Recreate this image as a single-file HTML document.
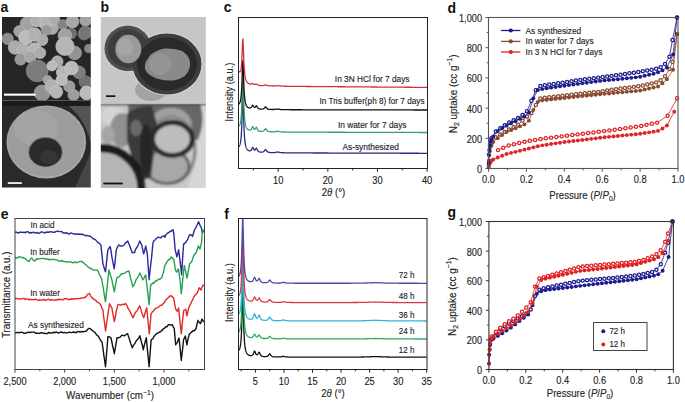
<!DOCTYPE html>
<html><head><meta charset="utf-8"><style>
html,body{margin:0;padding:0;background:#fff;}
svg{display:block;font-family:"Liberation Sans", sans-serif;}

</style></head><body>
<svg width="685" height="402" viewBox="0 0 685 402">
<defs><filter id="soft" x="-5%" y="-5%" width="110%" height="110%"><feGaussianBlur stdDeviation="0.7"/></filter>
<filter id="soft2" x="-5%" y="-5%" width="110%" height="110%"><feGaussianBlur stdDeviation="1.6"/></filter>
<filter id="soft3" x="-5%" y="-5%" width="110%" height="110%"><feGaussianBlur stdDeviation="1.1"/></filter></defs>
<rect width="685" height="402" fill="#fff"/>
<text x="0.5" y="11.8" font-size="14" text-anchor="start" font-weight="bold" fill="#111" >a</text>
<text x="100.5" y="12.3" font-size="14" text-anchor="start" font-weight="bold" fill="#111" >b</text>
<text x="223.8" y="12.2" font-size="14" text-anchor="start" font-weight="bold" fill="#111" >c</text>
<text x="447.5" y="12.6" font-size="14" text-anchor="start" font-weight="bold" fill="#111" >d</text>
<text x="0.8" y="219.2" font-size="14" text-anchor="start" font-weight="bold" fill="#111" >e</text>
<text x="224.3" y="218.8" font-size="14" text-anchor="start" font-weight="bold" fill="#111" >f</text>
<text x="447.5" y="216.6" font-size="14" text-anchor="start" font-weight="bold" fill="#111" >g</text>
<clipPath id="ca1"><rect x="2" y="17" width="88.8" height="83.5"/></clipPath>
<clipPath id="ca2"><rect x="2" y="100.5" width="88.8" height="87"/></clipPath>
<g clip-path="url(#ca1)"><g filter="url(#soft)">
<rect x="0" y="15" width="95" height="90" fill="#262626"/>
<circle cx="71.00" cy="33.40" r="5.45" fill="rgb(112,112,112)" stroke="rgb(130,130,130)" stroke-width="0.7"/>
<circle cx="83.98" cy="34.05" r="5.91" fill="rgb(107,107,107)" stroke="rgb(125,125,125)" stroke-width="0.7"/>
<circle cx="51.95" cy="27.99" r="6.36" fill="rgb(170,170,170)" stroke="rgb(188,188,188)" stroke-width="0.7"/>
<circle cx="45.02" cy="24.09" r="5.91" fill="rgb(177,177,177)" stroke="rgb(195,195,195)" stroke-width="0.7"/>
<circle cx="27.06" cy="23.66" r="6.82" fill="rgb(162,162,162)" stroke="rgb(180,180,180)" stroke-width="0.7"/>
<circle cx="36.80" cy="20.41" r="6.36" fill="rgb(177,177,177)" stroke="rgb(195,195,195)" stroke-width="0.7"/>
<circle cx="46.54" cy="21.49" r="6.82" fill="rgb(182,182,182)" stroke="rgb(200,200,200)" stroke-width="0.7"/>
<circle cx="54.11" cy="19.33" r="5.68" fill="rgb(172,172,172)" stroke="rgb(190,190,190)" stroke-width="0.7"/>
<circle cx="62.77" cy="24.74" r="5.00" fill="rgb(132,132,132)" stroke="rgb(150,150,150)" stroke-width="0.7"/>
<circle cx="72.51" cy="21.49" r="6.36" fill="rgb(167,167,167)" stroke="rgb(185,185,185)" stroke-width="0.7"/>
<circle cx="85.50" cy="20.41" r="5.68" fill="rgb(162,162,162)" stroke="rgb(180,180,180)" stroke-width="0.7"/>
<circle cx="7.58" cy="38.81" r="5.68" fill="rgb(142,142,142)" stroke="rgb(160,160,160)" stroke-width="0.7"/>
<circle cx="19.48" cy="31.23" r="5.68" fill="rgb(162,162,162)" stroke="rgb(180,180,180)" stroke-width="0.7"/>
<circle cx="46.54" cy="30.15" r="5.00" fill="rgb(152,152,152)" stroke="rgb(170,170,170)" stroke-width="0.7"/>
<circle cx="25.97" cy="37.73" r="7.27" fill="rgb(187,187,187)" stroke="rgb(205,205,205)" stroke-width="0.7"/>
<circle cx="34.63" cy="34.48" r="6.82" fill="rgb(177,177,177)" stroke="rgb(195,195,195)" stroke-width="0.7"/>
<circle cx="42.21" cy="39.89" r="5.68" fill="rgb(172,172,172)" stroke="rgb(190,190,190)" stroke-width="0.7"/>
<circle cx="15.15" cy="47.47" r="6.82" fill="rgb(172,172,172)" stroke="rgb(190,190,190)" stroke-width="0.7"/>
<circle cx="23.81" cy="50.71" r="6.82" fill="rgb(177,177,177)" stroke="rgb(195,195,195)" stroke-width="0.7"/>
<circle cx="34.63" cy="49.63" r="6.82" fill="rgb(182,182,182)" stroke="rgb(200,200,200)" stroke-width="0.7"/>
<circle cx="40.04" cy="52.88" r="5.68" fill="rgb(172,172,172)" stroke="rgb(190,190,190)" stroke-width="0.7"/>
<circle cx="20.56" cy="59.37" r="5.68" fill="rgb(152,152,152)" stroke="rgb(170,170,170)" stroke-width="0.7"/>
<circle cx="30.30" cy="57.21" r="5.68" fill="rgb(167,167,167)" stroke="rgb(185,185,185)" stroke-width="0.7"/>
<circle cx="64.94" cy="35.56" r="6.82" fill="rgb(162,162,162)" stroke="rgb(180,180,180)" stroke-width="0.7"/>
<circle cx="85.50" cy="32.32" r="6.36" fill="rgb(117,117,117)" stroke="rgb(135,135,135)" stroke-width="0.7"/>
<circle cx="88.74" cy="48.55" r="4.09" fill="rgb(137,137,137)" stroke="rgb(155,155,155)" stroke-width="0.7"/>
<circle cx="74.68" cy="52.88" r="6.82" fill="rgb(147,147,147)" stroke="rgb(165,165,165)" stroke-width="0.7"/>
<circle cx="64.94" cy="46.39" r="9.09" fill="rgb(182,182,182)" stroke="rgb(200,200,200)" stroke-width="0.7"/>
<circle cx="37.23" cy="70.84" r="10.91" fill="rgb(124,124,124)" stroke="rgb(142,142,142)" stroke-width="0.7"/>
<circle cx="57.36" cy="61.54" r="5.68" fill="rgb(172,172,172)" stroke="rgb(190,190,190)" stroke-width="0.7"/>
<circle cx="51.95" cy="65.87" r="5.00" fill="rgb(187,187,187)" stroke="rgb(205,205,205)" stroke-width="0.7"/>
<circle cx="79.00" cy="72.36" r="6.36" fill="rgb(127,127,127)" stroke="rgb(145,145,145)" stroke-width="0.7"/>
<circle cx="62.77" cy="72.36" r="6.36" fill="rgb(182,182,182)" stroke="rgb(200,200,200)" stroke-width="0.7"/>
<circle cx="71.43" cy="68.03" r="6.82" fill="rgb(187,187,187)" stroke="rgb(205,205,205)" stroke-width="0.7"/>
<circle cx="47.62" cy="79.94" r="4.55" fill="rgb(162,162,162)" stroke="rgb(180,180,180)" stroke-width="0.7"/>
<circle cx="85.50" cy="82.10" r="6.36" fill="rgb(112,112,112)" stroke="rgb(130,130,130)" stroke-width="0.7"/>
<circle cx="42.21" cy="92.92" r="7.95" fill="rgb(147,147,147)" stroke="rgb(165,165,165)" stroke-width="0.7"/>
<circle cx="51.95" cy="86.43" r="6.82" fill="rgb(177,177,177)" stroke="rgb(195,195,195)" stroke-width="0.7"/>
<circle cx="69.26" cy="86.43" r="5.68" fill="rgb(157,157,157)" stroke="rgb(175,175,175)" stroke-width="0.7"/>
<circle cx="61.69" cy="79.94" r="5.68" fill="rgb(187,187,187)" stroke="rgb(205,205,205)" stroke-width="0.7"/>
<circle cx="56.28" cy="91.84" r="6.36" fill="rgb(182,182,182)" stroke="rgb(200,200,200)" stroke-width="0.7"/>
<circle cx="73.59" cy="95.09" r="5.68" fill="rgb(157,157,157)" stroke="rgb(175,175,175)" stroke-width="0.7"/>
<circle cx="86.58" cy="92.92" r="6.82" fill="rgb(187,187,187)" stroke="rgb(205,205,205)" stroke-width="0.7"/>
</g></g>
<rect x="4" y="93.6" width="31.6" height="2.1" fill="#fff"/>
<g clip-path="url(#ca2)"><g filter="url(#soft)">
<rect x="0" y="98" width="95" height="95" fill="#2c2c2c"/>
<path d="M66,104 L92,104 L92,150 Q88,120 66,104Z" fill="#535353"/>
<path d="M74,190 L92,150 L92,190Z" fill="#444"/>
<rect x="0" y="100" width="95" height="6" fill="#1c1c1c"/>
<ellipse cx="46.3" cy="142" rx="39.8" ry="36.5" fill="#a8a8a8"/>
<ellipse cx="46" cy="141.5" rx="38.3" ry="35" fill="#9d9d9d"/>
<ellipse cx="36" cy="128" rx="22" ry="18" fill="#a6a6a6" opacity="0.8"/>
<ellipse cx="45.5" cy="152" rx="17.2" ry="15" fill="#6e6e6e"/>
<ellipse cx="45.5" cy="152.3" rx="16.2" ry="14.2" fill="#2a2a2a"/>
<ellipse cx="49" cy="157" rx="9" ry="7" fill="#363636"/>
</g></g>
<rect x="7.8" y="182.2" width="14" height="1.7" fill="#fff"/>
<clipPath id="cb1"><rect x="100.8" y="17" width="105" height="86.5"/></clipPath>
<clipPath id="cb2"><rect x="100.8" y="103.5" width="105" height="84.5"/></clipPath>
<g clip-path="url(#cb1)"><g filter="url(#soft)">
<rect x="98" y="15" width="110" height="90" fill="#c6c6c6"/>
<ellipse cx="151" cy="90" rx="16" ry="11" fill="#a2a2a2"/>
<ellipse cx="127.8" cy="48.4" rx="24.2" ry="23.7" fill="#dedede"/>
<ellipse cx="167" cy="64" rx="35.3" ry="31.3" fill="#dcdcdc"/>
<ellipse cx="127.8" cy="48.4" rx="23.4" ry="22.9" fill="#505050"/>
<ellipse cx="127.8" cy="48.4" rx="20" ry="19.5" fill="#3e3e3e"/>
<ellipse cx="167" cy="64" rx="34.5" ry="30.5" fill="#3c3c3c"/>
<ellipse cx="167" cy="64" rx="30" ry="26.5" fill="#2b2b2b"/>
<ellipse cx="128.3" cy="49" rx="13" ry="14.3" fill="#9a9a9a"/>
<ellipse cx="125" cy="47" rx="8" ry="9" fill="#a6a6a6"/>
<path d="M145.0,69.0 Q144.5,62 147.2,59.8 Q150,54 155.3,51.8 Q160,48.5 166.7,48.4 Q175,48.5 180.5,50.6 Q186,53 188.5,57.5 Q191,62 189.6,67.8 Q188.5,72.5 185.0,75.8 Q180,79.5 173.6,80.4 Q165,81 159.8,79.3 Q153,77.5 149.5,74.7 Q146,72 145.0,69.0Z" fill="#8a8a8a"/>
<ellipse cx="160" cy="64" rx="11" ry="11" fill="#959595"/>
</g></g>
<rect x="106" y="95.3" width="9.3" height="1.7" fill="#111"/>
<g clip-path="url(#cb2)"><g filter="url(#soft3)">
<rect x="98" y="100" width="110" height="92" fill="#c8c8c8"/>
<ellipse cx="113" cy="116" rx="12" ry="9" fill="#d4d4d4"/>
<path d="M196,104 L208,104 L208,192 L186,192 Q200,160 196,104Z" fill="#d6d6d6"/>
<path d="M128,104 L200,104 Q206,120 198,140 L150,140 L128,130 Z" fill="#666"/>
<ellipse cx="171" cy="125" rx="21.5" ry="18" fill="#a0a0a0" stroke="#6e6e6e" stroke-width="1.5"/>
<ellipse cx="171" cy="150" rx="24" ry="33" fill="none" stroke="#8a8a8a" stroke-width="3.5"/>
<ellipse cx="167" cy="166.5" rx="22" ry="17" fill="#a8a8a8" stroke="#666" stroke-width="3"/>
<ellipse cx="122" cy="130" rx="12" ry="17" fill="#909090"/>
<ellipse cx="108" cy="135" rx="7" ry="9" fill="#a5a5a5"/>
<path d="M127,114 Q136,105 152,106 L158,128 Q154,150 151,178 L142,180 Q131,160 127,140 Z" fill="#3a3a3a"/>
<ellipse cx="146" cy="150" rx="6" ry="26" fill="#262626"/>
<ellipse cx="136" cy="128" rx="6" ry="8" fill="#6a6a6a"/>
<ellipse cx="172.4" cy="139" rx="20" ry="16.5" fill="#bdbdbd" stroke="#2a2a2a" stroke-width="5"/>
<rect x="98" y="103.5" width="110" height="1.8" fill="#3e3e3e"/>
<circle cx="101.5" cy="188" r="40" fill="#b5b5b5" stroke="#1e1e1e" stroke-width="8.5"/>
<path d="M143.5,170 L142.5,190" fill="none" stroke="#2a2a2a" stroke-width="1.8"/>
</g></g>
<rect x="103.3" y="182.6" width="19.5" height="1.8" fill="#111"/>
<path d="M238.50,146.95 L238.60,146.86 L238.70,146.77 L238.80,146.67 L238.90,146.56 L239.00,146.45 L239.10,146.32 L239.19,146.19 L239.29,146.05 L239.39,145.89 L239.49,145.71 L239.59,145.52 L239.69,145.31 L239.79,145.07 L239.89,144.80 L239.99,144.51 L240.09,144.18 L240.19,143.81 L240.29,143.40 L240.39,142.94 L240.49,142.43 L240.58,141.86 L240.68,141.21 L240.78,140.49 L240.88,139.68 L240.98,138.76 L241.08,137.73 L241.18,136.57 L241.28,135.25 L241.38,133.77 L241.48,132.09 L241.58,130.20 L241.68,128.07 L241.78,125.67 L241.87,123.00 L241.97,120.04 L242.07,116.81 L242.17,113.34 L242.27,109.72 L242.37,106.06 L242.47,102.55 L242.57,99.42 L242.67,96.93 L242.77,95.33 L242.87,94.79 L242.97,95.38 L243.07,97.03 L243.17,99.56 L243.26,102.74 L243.36,106.30 L243.46,110.00 L243.56,113.68 L243.66,117.20 L243.76,120.48 L243.86,123.49 L243.96,126.21 L244.06,128.66 L244.16,130.84 L244.26,132.79 L244.36,134.52 L244.46,136.06 L244.55,137.43 L244.65,138.65 L244.75,139.74 L244.85,140.72 L244.95,141.59 L245.05,142.38 L245.15,143.09 L245.25,143.73 L245.35,144.31 L245.45,144.83 L245.55,145.31 L245.65,145.74 L245.75,146.14 L245.85,146.50 L245.94,146.84 L246.04,147.15 L246.14,147.43 L246.24,147.69 L246.34,147.93 L246.44,148.15 L246.54,148.36 L246.64,148.55 L246.74,148.73 L246.84,148.89 L246.94,149.05 L247.04,149.19 L247.14,149.32 L247.23,149.45 L247.33,149.57 L247.43,149.67 L247.53,149.78 L247.63,149.87 L247.73,149.96 L247.83,150.04 L247.93,150.12 L248.03,150.19 L248.13,150.26 L248.23,150.32 L248.33,150.38 L248.43,150.44 L248.92,150.65 L249.42,150.76 L249.91,150.78 L250.41,150.67 L250.91,150.37 L251.40,149.76 L251.90,148.70 L252.40,147.52 L252.89,147.51 L253.39,148.66 L253.89,149.64 L254.38,150.09 L254.88,150.07 L255.37,149.56 L255.87,148.62 L256.37,148.06 L256.86,148.84 L257.36,150.04 L257.86,150.88 L258.35,151.39 L258.85,151.70 L259.34,151.89 L259.84,152.01 L260.34,152.09 L260.83,152.14 L261.33,152.15 L261.83,152.13 L262.32,152.08 L262.82,151.98 L263.31,151.80 L263.81,151.50 L264.31,151.00 L264.80,150.26 L265.30,149.55 L265.80,149.57 L266.29,150.30 L266.79,151.07 L267.29,151.60 L267.78,151.93 L268.28,152.14 L268.77,152.28 L269.27,152.38 L269.77,152.45 L270.26,152.50 L270.76,152.53 L271.26,152.56 L271.75,152.57 L272.25,152.58 L272.74,152.59 L273.24,152.58 L273.74,152.57 L274.23,152.54 L274.73,152.50 L275.23,152.45 L275.72,152.37 L276.22,152.27 L276.72,152.15 L277.21,152.04 L277.71,152.00 L278.20,152.05 L278.70,152.17 L279.20,152.30 L279.69,152.42 L280.19,152.51 L280.69,152.58 L281.18,152.64 L281.68,152.68 L282.17,152.71 L282.67,152.74 L283.17,152.76 L283.66,152.77 L284.16,152.79 L284.66,152.80 L285.15,152.81 L285.65,152.82 L286.14,152.83 L286.64,152.84 L287.14,152.84 L287.63,152.85 L288.13,152.85 L288.63,152.86 L289.12,152.86 L289.62,152.87 L290.12,152.87 L290.61,152.88 L291.11,152.88 L291.60,152.88 L292.10,152.89 L292.60,152.89 L293.09,152.89 L293.59,152.90 L294.09,152.90 L294.58,152.90 L295.08,152.90 L295.57,152.91 L296.07,152.91 L296.57,152.91 L297.06,152.91 L297.56,152.92 L298.06,152.92 L298.55,152.92 L299.05,152.92 L299.54,152.93 L300.04,152.93 L300.54,152.93 L301.03,152.93 L301.53,152.93 L302.03,152.94 L302.52,152.94 L303.02,152.94 L303.52,152.94 L304.01,152.94 L304.51,152.95 L305.00,152.95 L305.50,152.95 L306.00,152.95 L306.49,152.95 L306.99,152.96 L307.49,152.96 L307.98,152.96 L308.48,152.96 L308.97,152.96 L309.47,152.96 L309.97,152.97 L310.46,152.97 L310.96,152.97 L311.46,152.97 L311.95,152.97 L312.45,152.97 L312.94,152.98 L313.44,152.98 L313.94,152.98 L314.43,152.98 L314.93,152.98 L315.43,152.98 L315.92,152.99 L316.42,152.99 L316.92,152.99 L317.41,152.99 L317.91,152.99 L318.40,152.99 L318.90,153.00 L319.40,153.00 L319.89,153.00 L320.39,153.00 L320.89,153.00 L321.38,153.00 L321.88,153.01 L322.37,153.01 L322.87,153.01 L323.37,153.01 L323.86,153.01 L324.36,153.01 L324.86,153.01 L325.35,153.02 L325.85,153.02 L326.35,153.02 L326.84,153.02 L327.34,153.02 L327.83,153.02 L328.33,153.02 L328.83,153.03 L329.32,153.03 L329.82,153.03 L330.32,153.03 L330.81,153.03 L331.31,153.03 L331.80,153.04 L332.30,153.04 L332.80,153.04 L333.29,153.04 L333.79,153.04 L334.29,153.04 L334.78,153.04 L335.28,153.05 L335.77,153.05 L336.27,153.05 L336.77,153.05 L337.26,153.05 L337.76,153.05 L338.26,153.05 L338.75,153.06 L339.25,153.06 L339.75,153.06 L340.24,153.06 L340.74,153.06 L341.23,153.06 L341.73,153.06 L342.23,153.07 L342.72,153.07 L343.22,153.07 L343.72,153.07 L344.21,153.07 L344.71,153.07 L345.20,153.07 L345.70,153.08 L346.20,153.08 L346.69,153.08 L347.19,153.08 L347.69,153.08 L348.18,153.08 L348.68,153.08 L349.17,153.09 L349.67,153.09 L350.17,153.09 L350.66,153.09 L351.16,153.09 L351.66,153.09 L352.15,153.09 L352.65,153.10 L353.15,153.10 L353.64,153.10 L354.14,153.10 L354.63,153.10 L355.13,153.10 L355.63,153.10 L356.12,153.10 L356.62,153.11 L357.12,153.11 L357.61,153.11 L358.11,153.11 L358.60,153.11 L359.10,153.11 L359.60,153.11 L360.09,153.12 L360.59,153.12 L361.09,153.12 L361.58,153.12 L362.08,153.12 L362.58,153.12 L363.07,153.12 L363.57,153.13 L364.06,153.13 L364.56,153.13 L365.06,153.13 L365.55,153.13 L366.05,153.13 L366.55,153.13 L367.04,153.13 L367.54,153.14 L368.03,153.14 L368.53,153.14 L369.03,153.14 L369.52,153.14 L370.02,153.14 L370.52,153.14 L371.01,153.15 L371.51,153.15 L372.00,153.15 L372.50,153.15 L373.00,153.15 L373.49,153.15 L373.99,153.15 L374.49,153.16 L374.98,153.16 L375.48,153.16 L375.98,153.16 L376.47,153.16 L376.97,153.16 L377.46,153.16 L377.96,153.16 L378.46,153.17 L378.95,153.17 L379.45,153.17 L379.95,153.17 L380.44,153.17 L380.94,153.17 L381.43,153.17 L381.93,153.18 L382.43,153.18 L382.92,153.18 L383.42,153.18 L383.92,153.18 L384.41,153.18 L384.91,153.18 L385.40,153.19 L385.90,153.19 L386.40,153.19 L386.89,153.19 L387.39,153.19 L387.89,153.19 L388.38,153.19 L388.88,153.19 L389.38,153.20 L389.87,153.20 L390.37,153.20 L390.86,153.20 L391.36,153.20 L391.86,153.20 L392.35,153.20 L392.85,153.21 L393.35,153.21 L393.84,153.21 L394.34,153.21 L394.83,153.21 L395.33,153.21 L395.83,153.21 L396.32,153.21 L396.82,153.22 L397.32,153.22 L397.81,153.22 L398.31,153.22 L398.80,153.22 L399.30,153.22 L399.80,153.22 L400.29,153.23 L400.79,153.23 L401.29,153.23 L401.78,153.23 L402.28,153.23 L402.78,153.23 L403.27,153.23 L403.77,153.23 L404.26,153.24 L404.76,153.24 L405.26,153.24 L405.75,153.24 L406.25,153.24 L406.75,153.24 L407.24,153.24 L407.74,153.25 L408.23,153.25 L408.73,153.25 L409.23,153.25 L409.72,153.25 L410.22,153.25 L410.72,153.25 L411.21,153.25 L411.71,153.26 L412.21,153.26 L412.70,153.26 L413.20,153.26 L413.69,153.26 L414.19,153.26 L414.69,153.26 L415.18,153.27 L415.68,153.27 L416.18,153.27 L416.67,153.27 L417.17,153.27 L417.66,153.27 L418.16,153.27 L418.66,153.27 L419.15,153.28 L419.65,153.28 L420.15,153.28 L420.64,153.28 L421.14,153.28 L421.63,153.28 L422.13,153.28 L422.63,153.29 L423.12,153.29 L423.62,153.29 L424.12,153.29 L424.61,153.29 L425.11,153.29 L425.61,153.29 L426.10,153.29 L426.60,153.30 L427.09,153.30" fill="none" stroke="#2a2a88" stroke-width="1.3" stroke-linejoin="round" />
<path d="M238.50,126.40 L238.60,126.32 L238.70,126.23 L238.80,126.15 L238.90,126.05 L239.00,125.96 L239.10,125.85 L239.19,125.73 L239.29,125.61 L239.39,125.47 L239.49,125.31 L239.59,125.14 L239.69,124.95 L239.79,124.74 L239.89,124.50 L239.99,124.24 L240.09,123.95 L240.19,123.62 L240.29,123.25 L240.39,122.83 L240.49,122.37 L240.58,121.85 L240.68,121.27 L240.78,120.61 L240.88,119.88 L240.98,119.05 L241.08,118.11 L241.18,117.05 L241.28,115.86 L241.38,114.51 L241.48,112.98 L241.58,111.26 L241.68,109.31 L241.78,107.13 L241.87,104.70 L241.97,102.00 L242.07,99.06 L242.17,95.90 L242.27,92.59 L242.37,89.26 L242.47,86.06 L242.57,83.21 L242.67,80.94 L242.77,79.48 L242.87,78.99 L242.97,79.53 L243.07,81.03 L243.17,83.35 L243.26,86.25 L243.36,89.50 L243.46,92.88 L243.56,96.23 L243.66,99.44 L243.76,102.44 L243.86,105.19 L243.96,107.67 L244.06,109.91 L244.16,111.90 L244.26,113.68 L244.36,115.26 L244.46,116.67 L244.55,117.92 L244.65,119.03 L244.75,120.03 L244.85,120.92 L244.95,121.72 L245.05,122.44 L245.15,123.08 L245.25,123.67 L245.35,124.20 L245.45,124.68 L245.55,125.11 L245.65,125.51 L245.75,125.87 L245.85,126.20 L245.94,126.51 L246.04,126.79 L246.14,127.05 L246.24,127.29 L246.34,127.51 L246.44,127.71 L246.54,127.90 L246.64,128.07 L246.74,128.24 L246.84,128.39 L246.94,128.53 L247.04,128.66 L247.14,128.78 L247.23,128.89 L247.33,129.00 L247.43,129.10 L247.53,129.19 L247.63,129.28 L247.73,129.36 L247.83,129.44 L247.93,129.51 L248.03,129.57 L248.13,129.63 L248.23,129.69 L248.33,129.74 L248.43,129.79 L248.92,129.98 L249.42,130.08 L249.91,130.08 L250.41,129.96 L250.91,129.65 L251.40,129.03 L251.90,127.96 L252.40,126.77 L252.89,126.76 L253.39,127.90 L253.89,128.88 L254.38,129.33 L254.88,129.30 L255.37,128.79 L255.87,127.85 L256.37,127.29 L256.86,128.07 L257.36,129.26 L257.86,130.10 L258.35,130.61 L258.85,130.92 L259.34,131.11 L259.84,131.23 L260.34,131.31 L260.83,131.35 L261.33,131.36 L261.83,131.35 L262.32,131.29 L262.82,131.19 L263.31,131.01 L263.81,130.71 L264.31,130.21 L264.80,129.47 L265.30,128.76 L265.80,128.78 L266.29,129.51 L266.79,130.28 L267.29,130.80 L267.78,131.14 L268.28,131.35 L268.77,131.49 L269.27,131.59 L269.77,131.65 L270.26,131.70 L270.76,131.74 L271.26,131.76 L271.75,131.78 L272.25,131.79 L272.74,131.79 L273.24,131.79 L273.74,131.77 L274.23,131.75 L274.73,131.71 L275.23,131.65 L275.72,131.57 L276.22,131.47 L276.72,131.35 L277.21,131.24 L277.71,131.20 L278.20,131.26 L278.70,131.38 L279.20,131.51 L279.69,131.63 L280.19,131.72 L280.69,131.79 L281.18,131.84 L281.68,131.88 L282.17,131.91 L282.67,131.94 L283.17,131.96 L283.66,131.98 L284.16,131.99 L284.66,132.00 L285.15,132.01 L285.65,132.02 L286.14,132.03 L286.64,132.04 L287.14,132.04 L287.63,132.05 L288.13,132.06 L288.63,132.06 L289.12,132.07 L289.62,132.07 L290.12,132.07 L290.61,132.08 L291.11,132.08 L291.60,132.09 L292.10,132.09 L292.60,132.09 L293.09,132.09 L293.59,132.10 L294.09,132.10 L294.58,132.10 L295.08,132.11 L295.57,132.11 L296.07,132.11 L296.57,132.11 L297.06,132.12 L297.56,132.12 L298.06,132.12 L298.55,132.12 L299.05,132.13 L299.54,132.13 L300.04,132.13 L300.54,132.13 L301.03,132.13 L301.53,132.14 L302.03,132.14 L302.52,132.14 L303.02,132.14 L303.52,132.14 L304.01,132.15 L304.51,132.15 L305.00,132.15 L305.50,132.15 L306.00,132.15 L306.49,132.16 L306.99,132.16 L307.49,132.16 L307.98,132.16 L308.48,132.16 L308.97,132.16 L309.47,132.17 L309.97,132.17 L310.46,132.17 L310.96,132.17 L311.46,132.17 L311.95,132.17 L312.45,132.18 L312.94,132.18 L313.44,132.18 L313.94,132.18 L314.43,132.18 L314.93,132.18 L315.43,132.19 L315.92,132.19 L316.42,132.19 L316.92,132.19 L317.41,132.19 L317.91,132.19 L318.40,132.20 L318.90,132.20 L319.40,132.20 L319.89,132.20 L320.39,132.20 L320.89,132.20 L321.38,132.20 L321.88,132.21 L322.37,132.21 L322.87,132.21 L323.37,132.21 L323.86,132.21 L324.36,132.21 L324.86,132.22 L325.35,132.22 L325.85,132.22 L326.35,132.22 L326.84,132.22 L327.34,132.22 L327.83,132.22 L328.33,132.23 L328.83,132.23 L329.32,132.23 L329.82,132.23 L330.32,132.23 L330.81,132.23 L331.31,132.23 L331.80,132.24 L332.30,132.24 L332.80,132.24 L333.29,132.24 L333.79,132.24 L334.29,132.24 L334.78,132.24 L335.28,132.25 L335.77,132.25 L336.27,132.25 L336.77,132.25 L337.26,132.25 L337.76,132.25 L338.26,132.25 L338.75,132.26 L339.25,132.26 L339.75,132.26 L340.24,132.26 L340.74,132.26 L341.23,132.26 L341.73,132.26 L342.23,132.27 L342.72,132.27 L343.22,132.27 L343.72,132.27 L344.21,132.27 L344.71,132.27 L345.20,132.27 L345.70,132.28 L346.20,132.28 L346.69,132.28 L347.19,132.28 L347.69,132.28 L348.18,132.28 L348.68,132.28 L349.17,132.29 L349.67,132.29 L350.17,132.29 L350.66,132.29 L351.16,132.29 L351.66,132.29 L352.15,132.29 L352.65,132.30 L353.15,132.30 L353.64,132.30 L354.14,132.30 L354.63,132.30 L355.13,132.30 L355.63,132.30 L356.12,132.31 L356.62,132.31 L357.12,132.31 L357.61,132.31 L358.11,132.31 L358.60,132.31 L359.10,132.31 L359.60,132.31 L360.09,132.32 L360.59,132.32 L361.09,132.32 L361.58,132.32 L362.08,132.32 L362.58,132.32 L363.07,132.32 L363.57,132.33 L364.06,132.33 L364.56,132.33 L365.06,132.33 L365.55,132.33 L366.05,132.33 L366.55,132.33 L367.04,132.34 L367.54,132.34 L368.03,132.34 L368.53,132.34 L369.03,132.34 L369.52,132.34 L370.02,132.34 L370.52,132.34 L371.01,132.35 L371.51,132.35 L372.00,132.35 L372.50,132.35 L373.00,132.35 L373.49,132.35 L373.99,132.35 L374.49,132.36 L374.98,132.36 L375.48,132.36 L375.98,132.36 L376.47,132.36 L376.97,132.36 L377.46,132.36 L377.96,132.37 L378.46,132.37 L378.95,132.37 L379.45,132.37 L379.95,132.37 L380.44,132.37 L380.94,132.37 L381.43,132.37 L381.93,132.38 L382.43,132.38 L382.92,132.38 L383.42,132.38 L383.92,132.38 L384.41,132.38 L384.91,132.38 L385.40,132.39 L385.90,132.39 L386.40,132.39 L386.89,132.39 L387.39,132.39 L387.89,132.39 L388.38,132.39 L388.88,132.39 L389.38,132.40 L389.87,132.40 L390.37,132.40 L390.86,132.40 L391.36,132.40 L391.86,132.40 L392.35,132.40 L392.85,132.41 L393.35,132.41 L393.84,132.41 L394.34,132.41 L394.83,132.41 L395.33,132.41 L395.83,132.41 L396.32,132.41 L396.82,132.42 L397.32,132.42 L397.81,132.42 L398.31,132.42 L398.80,132.42 L399.30,132.42 L399.80,132.42 L400.29,132.43 L400.79,132.43 L401.29,132.43 L401.78,132.43 L402.28,132.43 L402.78,132.43 L403.27,132.43 L403.77,132.43 L404.26,132.44 L404.76,132.44 L405.26,132.44 L405.75,132.44 L406.25,132.44 L406.75,132.44 L407.24,132.44 L407.74,132.45 L408.23,132.45 L408.73,132.45 L409.23,132.45 L409.72,132.45 L410.22,132.45 L410.72,132.45 L411.21,132.45 L411.71,132.46 L412.21,132.46 L412.70,132.46 L413.20,132.46 L413.69,132.46 L414.19,132.46 L414.69,132.46 L415.18,132.47 L415.68,132.47 L416.18,132.47 L416.67,132.47 L417.17,132.47 L417.66,132.47 L418.16,132.47 L418.66,132.47 L419.15,132.48 L419.65,132.48 L420.15,132.48 L420.64,132.48 L421.14,132.48 L421.63,132.48 L422.13,132.48 L422.63,132.49 L423.12,132.49 L423.62,132.49 L424.12,132.49 L424.61,132.49 L425.11,132.49 L425.61,132.49 L426.10,132.49 L426.60,132.50 L427.09,132.50" fill="none" stroke="#3a9e6e" stroke-width="1.3" stroke-linejoin="round" />
<path d="M238.50,104.30 L238.60,104.23 L238.70,104.16 L238.80,104.08 L238.90,104.00 L239.00,103.91 L239.10,103.82 L239.19,103.71 L239.29,103.60 L239.39,103.48 L239.49,103.34 L239.59,103.18 L239.69,103.01 L239.79,102.82 L239.89,102.61 L239.99,102.37 L240.09,102.11 L240.19,101.81 L240.29,101.47 L240.39,101.09 L240.49,100.67 L240.58,100.20 L240.68,99.66 L240.78,99.06 L240.88,98.38 L240.98,97.62 L241.08,96.76 L241.18,95.79 L241.28,94.69 L241.38,93.45 L241.48,92.04 L241.58,90.45 L241.68,88.66 L241.78,86.65 L241.87,84.41 L241.97,81.92 L242.07,79.21 L242.17,76.29 L242.27,73.24 L242.37,70.17 L242.47,67.21 L242.57,64.58 L242.67,62.49 L242.77,61.15 L242.87,60.70 L242.97,61.20 L243.07,62.59 L243.17,64.73 L243.26,67.41 L243.36,70.41 L243.46,73.53 L243.56,76.63 L243.66,79.59 L243.76,82.36 L243.86,84.90 L243.96,87.19 L244.06,89.26 L244.16,91.10 L244.26,92.74 L244.36,94.20 L244.46,95.50 L244.55,96.66 L244.65,97.69 L244.75,98.61 L244.85,99.43 L244.95,100.17 L245.05,100.84 L245.15,101.43 L245.25,101.97 L245.35,102.46 L245.45,102.91 L245.55,103.31 L245.65,103.68 L245.75,104.01 L245.85,104.32 L245.94,104.61 L246.04,104.86 L246.14,105.10 L246.24,105.32 L246.34,105.53 L246.44,105.72 L246.54,105.89 L246.64,106.05 L246.74,106.21 L246.84,106.35 L246.94,106.48 L247.04,106.60 L247.14,106.71 L247.23,106.82 L247.33,106.92 L247.43,107.01 L247.53,107.10 L247.63,107.18 L247.73,107.25 L247.83,107.33 L247.93,107.39 L248.03,107.45 L248.13,107.51 L248.23,107.57 L248.33,107.61 L248.43,107.66 L248.92,107.84 L249.42,107.94 L249.91,107.96 L250.41,107.87 L250.91,107.61 L251.40,107.09 L251.90,106.20 L252.40,105.19 L252.89,105.18 L253.39,106.16 L253.89,107.00 L254.38,107.38 L254.88,107.36 L255.37,106.93 L255.87,106.13 L256.37,105.66 L256.86,106.32 L257.36,107.33 L257.86,108.05 L258.35,108.48 L258.85,108.75 L259.34,108.91 L259.84,109.01 L260.34,109.08 L260.83,109.12 L261.33,109.13 L261.83,109.11 L262.32,109.07 L262.82,108.98 L263.31,108.83 L263.81,108.57 L264.31,108.15 L264.80,107.52 L265.30,106.92 L265.80,106.93 L266.29,107.56 L266.79,108.21 L267.29,108.66 L267.78,108.94 L268.28,109.12 L268.77,109.24 L269.27,109.32 L269.77,109.38 L270.26,109.42 L270.76,109.45 L271.26,109.47 L271.75,109.48 L272.25,109.49 L272.74,109.49 L273.24,109.49 L273.74,109.48 L274.23,109.46 L274.73,109.42 L275.23,109.38 L275.72,109.31 L276.22,109.22 L276.72,109.12 L277.21,109.03 L277.71,108.99 L278.20,109.04 L278.70,109.14 L279.20,109.25 L279.69,109.35 L280.19,109.43 L280.69,109.49 L281.18,109.53 L281.68,109.57 L282.17,109.60 L282.67,109.62 L283.17,109.63 L283.66,109.65 L284.16,109.66 L284.66,109.67 L285.15,109.68 L285.65,109.69 L286.14,109.69 L286.64,109.70 L287.14,109.70 L287.63,109.71 L288.13,109.71 L288.63,109.72 L289.12,109.72 L289.62,109.72 L290.12,109.73 L290.61,109.73 L291.11,109.73 L291.60,109.74 L292.10,109.74 L292.60,109.74 L293.09,109.74 L293.59,109.74 L294.09,109.75 L294.58,109.75 L295.08,109.75 L295.57,109.75 L296.07,109.75 L296.57,109.76 L297.06,109.76 L297.56,109.76 L298.06,109.76 L298.55,109.76 L299.05,109.76 L299.54,109.77 L300.04,109.77 L300.54,109.77 L301.03,109.77 L301.53,109.77 L302.03,109.77 L302.52,109.78 L303.02,109.78 L303.52,109.78 L304.01,109.78 L304.51,109.78 L305.00,109.78 L305.50,109.78 L306.00,109.78 L306.49,109.79 L306.99,109.79 L307.49,109.79 L307.98,109.79 L308.48,109.79 L308.97,109.79 L309.47,109.79 L309.97,109.79 L310.46,109.80 L310.96,109.80 L311.46,109.80 L311.95,109.80 L312.45,109.80 L312.94,109.80 L313.44,109.80 L313.94,109.80 L314.43,109.80 L314.93,109.80 L315.43,109.81 L315.92,109.81 L316.42,109.81 L316.92,109.81 L317.41,109.81 L317.91,109.81 L318.40,109.81 L318.90,109.81 L319.40,109.81 L319.89,109.82 L320.39,109.82 L320.89,109.82 L321.38,109.82 L321.88,109.82 L322.37,109.82 L322.87,109.82 L323.37,109.82 L323.86,109.82 L324.36,109.82 L324.86,109.82 L325.35,109.83 L325.85,109.83 L326.35,109.83 L326.84,109.83 L327.34,109.83 L327.83,109.83 L328.33,109.83 L328.83,109.83 L329.32,109.83 L329.82,109.83 L330.32,109.84 L330.81,109.84 L331.31,109.84 L331.80,109.84 L332.30,109.84 L332.80,109.84 L333.29,109.84 L333.79,109.84 L334.29,109.84 L334.78,109.84 L335.28,109.84 L335.77,109.85 L336.27,109.85 L336.77,109.85 L337.26,109.85 L337.76,109.85 L338.26,109.85 L338.75,109.85 L339.25,109.85 L339.75,109.85 L340.24,109.85 L340.74,109.85 L341.23,109.86 L341.73,109.86 L342.23,109.86 L342.72,109.86 L343.22,109.86 L343.72,109.86 L344.21,109.86 L344.71,109.86 L345.20,109.86 L345.70,109.86 L346.20,109.86 L346.69,109.86 L347.19,109.87 L347.69,109.87 L348.18,109.87 L348.68,109.87 L349.17,109.87 L349.67,109.87 L350.17,109.87 L350.66,109.87 L351.16,109.87 L351.66,109.87 L352.15,109.87 L352.65,109.88 L353.15,109.88 L353.64,109.88 L354.14,109.88 L354.63,109.88 L355.13,109.88 L355.63,109.88 L356.12,109.88 L356.62,109.88 L357.12,109.88 L357.61,109.88 L358.11,109.88 L358.60,109.89 L359.10,109.89 L359.60,109.89 L360.09,109.89 L360.59,109.89 L361.09,109.89 L361.58,109.89 L362.08,109.89 L362.58,109.89 L363.07,109.89 L363.57,109.89 L364.06,109.89 L364.56,109.90 L365.06,109.90 L365.55,109.90 L366.05,109.90 L366.55,109.90 L367.04,109.90 L367.54,109.90 L368.03,109.90 L368.53,109.90 L369.03,109.90 L369.52,109.90 L370.02,109.90 L370.52,109.91 L371.01,109.91 L371.51,109.91 L372.00,109.91 L372.50,109.91 L373.00,109.91 L373.49,109.91 L373.99,109.91 L374.49,109.91 L374.98,109.91 L375.48,109.91 L375.98,109.91 L376.47,109.92 L376.97,109.92 L377.46,109.92 L377.96,109.92 L378.46,109.92 L378.95,109.92 L379.45,109.92 L379.95,109.92 L380.44,109.92 L380.94,109.92 L381.43,109.92 L381.93,109.92 L382.43,109.92 L382.92,109.93 L383.42,109.93 L383.92,109.93 L384.41,109.93 L384.91,109.93 L385.40,109.93 L385.90,109.93 L386.40,109.93 L386.89,109.93 L387.39,109.93 L387.89,109.93 L388.38,109.93 L388.88,109.94 L389.38,109.94 L389.87,109.94 L390.37,109.94 L390.86,109.94 L391.36,109.94 L391.86,109.94 L392.35,109.94 L392.85,109.94 L393.35,109.94 L393.84,109.94 L394.34,109.94 L394.83,109.95 L395.33,109.95 L395.83,109.95 L396.32,109.95 L396.82,109.95 L397.32,109.95 L397.81,109.95 L398.31,109.95 L398.80,109.95 L399.30,109.95 L399.80,109.95 L400.29,109.95 L400.79,109.96 L401.29,109.96 L401.78,109.96 L402.28,109.96 L402.78,109.96 L403.27,109.96 L403.77,109.96 L404.26,109.96 L404.76,109.96 L405.26,109.96 L405.75,109.96 L406.25,109.96 L406.75,109.96 L407.24,109.97 L407.74,109.97 L408.23,109.97 L408.73,109.97 L409.23,109.97 L409.72,109.97 L410.22,109.97 L410.72,109.97 L411.21,109.97 L411.71,109.97 L412.21,109.97 L412.70,109.97 L413.20,109.98 L413.69,109.98 L414.19,109.98 L414.69,109.98 L415.18,109.98 L415.68,109.98 L416.18,109.98 L416.67,109.98 L417.17,109.98 L417.66,109.98 L418.16,109.98 L418.66,109.98 L419.15,109.98 L419.65,109.99 L420.15,109.99 L420.64,109.99 L421.14,109.99 L421.63,109.99 L422.13,109.99 L422.63,109.99 L423.12,109.99 L423.62,109.99 L424.12,109.99 L424.61,109.99 L425.11,109.99 L425.61,110.00 L426.10,110.00 L426.60,110.00 L427.09,110.00" fill="none" stroke="#111111" stroke-width="1.3" stroke-linejoin="round" />
<path d="M238.50,70.86 L238.60,70.91 L238.70,70.98 L238.80,71.07 L238.90,71.15 L239.00,71.25 L239.10,71.35 L239.19,71.45 L239.29,71.55 L239.39,71.65 L239.49,71.74 L239.59,71.82 L239.69,71.88 L239.79,71.93 L239.89,71.96 L239.99,71.97 L240.09,71.94 L240.19,71.89 L240.29,71.79 L240.39,71.66 L240.49,71.48 L240.58,71.25 L240.68,70.96 L240.78,70.61 L240.88,70.18 L240.98,69.67 L241.08,69.06 L241.18,68.35 L241.28,67.52 L241.38,66.56 L241.48,65.45 L241.58,64.16 L241.68,62.70 L241.78,61.02 L241.87,59.14 L241.97,57.03 L242.07,54.72 L242.17,52.22 L242.27,49.60 L242.37,46.95 L242.47,44.41 L242.57,42.15 L242.67,40.37 L242.77,39.26 L242.87,38.94 L242.97,39.47 L243.07,40.81 L243.17,42.80 L243.26,45.28 L243.36,48.04 L243.46,50.91 L243.56,53.76 L243.66,56.48 L243.76,59.03 L243.86,61.36 L243.96,63.48 L244.06,65.39 L244.16,67.10 L244.26,68.63 L244.36,69.99 L244.46,71.21 L244.55,72.30 L244.65,73.27 L244.75,74.15 L244.85,74.93 L244.95,75.64 L245.05,76.28 L245.15,76.86 L245.25,77.39 L245.35,77.87 L245.45,78.31 L245.55,78.71 L245.65,79.07 L245.75,79.41 L245.85,79.73 L245.94,80.02 L246.04,80.28 L246.14,80.53 L246.24,80.76 L246.34,80.98 L246.44,81.18 L246.54,81.37 L246.64,81.54 L246.74,81.71 L246.84,81.86 L246.94,82.01 L247.04,82.14 L247.14,82.27 L247.23,82.39 L247.33,82.51 L247.43,82.62 L247.53,82.72 L247.63,82.82 L247.73,82.91 L247.83,83.00 L247.93,83.08 L248.03,83.16 L248.13,83.23 L248.23,83.30 L248.33,83.37 L248.43,83.43 L248.92,83.70 L249.42,83.89 L249.91,84.02 L250.41,84.08 L250.91,84.04 L251.40,83.91 L251.90,83.69 L252.40,83.50 L252.89,83.55 L253.39,83.83 L253.89,84.13 L254.38,84.32 L254.88,84.37 L255.37,84.28 L255.87,84.14 L256.37,84.10 L256.86,84.31 L257.36,84.63 L257.86,84.93 L258.35,85.15 L258.85,85.31 L259.34,85.41 L259.84,85.49 L260.34,85.54 L260.83,85.57 L261.33,85.59 L261.83,85.59 L262.32,85.57 L262.82,85.52 L263.31,85.45 L263.81,85.35 L264.31,85.22 L264.80,85.08 L265.30,84.98 L265.80,85.00 L266.29,85.12 L266.79,85.29 L267.29,85.45 L267.78,85.59 L268.28,85.69 L268.77,85.77 L269.27,85.83 L269.77,85.87 L270.26,85.91 L270.76,85.93 L271.26,85.95 L271.75,85.97 L272.25,85.98 L272.74,85.98 L273.24,85.98 L273.74,85.97 L274.23,85.95 L274.73,85.93 L275.23,85.90 L275.72,85.85 L276.22,85.80 L276.72,85.74 L277.21,85.70 L277.71,85.69 L278.20,85.72 L278.70,85.78 L279.20,85.85 L279.69,85.92 L280.19,85.98 L280.69,86.03 L281.18,86.07 L281.68,86.11 L282.17,86.14 L282.67,86.16 L283.17,86.18 L283.66,86.20 L284.16,86.21 L284.66,86.23 L285.15,86.24 L285.65,86.25 L286.14,86.26 L286.64,86.27 L287.14,86.28 L287.63,86.28 L288.13,86.29 L288.63,86.30 L289.12,86.31 L289.62,86.31 L290.12,86.32 L290.61,86.32 L291.11,86.33 L291.60,86.34 L292.10,86.34 L292.60,86.35 L293.09,86.35 L293.59,86.36 L294.09,86.36 L294.58,86.37 L295.08,86.37 L295.57,86.38 L296.07,86.38 L296.57,86.39 L297.06,86.39 L297.56,86.40 L298.06,86.40 L298.55,86.41 L299.05,86.41 L299.54,86.42 L300.04,86.42 L300.54,86.43 L301.03,86.43 L301.53,86.43 L302.03,86.44 L302.52,86.44 L303.02,86.45 L303.52,86.45 L304.01,86.46 L304.51,86.46 L305.00,86.46 L305.50,86.47 L306.00,86.47 L306.49,86.48 L306.99,86.48 L307.49,86.49 L307.98,86.49 L308.48,86.49 L308.97,86.50 L309.47,86.50 L309.97,86.51 L310.46,86.51 L310.96,86.51 L311.46,86.52 L311.95,86.52 L312.45,86.53 L312.94,86.53 L313.44,86.53 L313.94,86.54 L314.43,86.54 L314.93,86.55 L315.43,86.55 L315.92,86.55 L316.42,86.56 L316.92,86.56 L317.41,86.57 L317.91,86.57 L318.40,86.57 L318.90,86.58 L319.40,86.58 L319.89,86.59 L320.39,86.59 L320.89,86.59 L321.38,86.60 L321.88,86.60 L322.37,86.61 L322.87,86.61 L323.37,86.61 L323.86,86.62 L324.36,86.62 L324.86,86.63 L325.35,86.63 L325.85,86.63 L326.35,86.64 L326.84,86.64 L327.34,86.65 L327.83,86.65 L328.33,86.65 L328.83,86.66 L329.32,86.66 L329.82,86.66 L330.32,86.67 L330.81,86.67 L331.31,86.68 L331.80,86.68 L332.30,86.68 L332.80,86.69 L333.29,86.69 L333.79,86.70 L334.29,86.70 L334.78,86.70 L335.28,86.71 L335.77,86.71 L336.27,86.71 L336.77,86.72 L337.26,86.72 L337.76,86.73 L338.26,86.73 L338.75,86.73 L339.25,86.74 L339.75,86.74 L340.24,86.74 L340.74,86.75 L341.23,86.75 L341.73,86.76 L342.23,86.76 L342.72,86.76 L343.22,86.77 L343.72,86.77 L344.21,86.77 L344.71,86.78 L345.20,86.78 L345.70,86.79 L346.20,86.79 L346.69,86.79 L347.19,86.80 L347.69,86.80 L348.18,86.81 L348.68,86.81 L349.17,86.81 L349.67,86.82 L350.17,86.82 L350.66,86.82 L351.16,86.83 L351.66,86.83 L352.15,86.84 L352.65,86.84 L353.15,86.84 L353.64,86.85 L354.14,86.85 L354.63,86.85 L355.13,86.86 L355.63,86.86 L356.12,86.87 L356.62,86.87 L357.12,86.87 L357.61,86.88 L358.11,86.88 L358.60,86.88 L359.10,86.89 L359.60,86.89 L360.09,86.90 L360.59,86.90 L361.09,86.90 L361.58,86.91 L362.08,86.91 L362.58,86.91 L363.07,86.92 L363.57,86.92 L364.06,86.93 L364.56,86.93 L365.06,86.93 L365.55,86.94 L366.05,86.94 L366.55,86.94 L367.04,86.95 L367.54,86.95 L368.03,86.96 L368.53,86.96 L369.03,86.96 L369.52,86.97 L370.02,86.97 L370.52,86.97 L371.01,86.98 L371.51,86.98 L372.00,86.99 L372.50,86.99 L373.00,86.99 L373.49,87.00 L373.99,87.00 L374.49,87.00 L374.98,87.01 L375.48,87.01 L375.98,87.01 L376.47,87.02 L376.97,87.02 L377.46,87.03 L377.96,87.03 L378.46,87.03 L378.95,87.04 L379.45,87.04 L379.95,87.04 L380.44,87.05 L380.94,87.05 L381.43,87.06 L381.93,87.06 L382.43,87.06 L382.92,87.07 L383.42,87.07 L383.92,87.07 L384.41,87.08 L384.91,87.08 L385.40,87.09 L385.90,87.09 L386.40,87.09 L386.89,87.10 L387.39,87.10 L387.89,87.10 L388.38,87.11 L388.88,87.11 L389.38,87.12 L389.87,87.12 L390.37,87.12 L390.86,87.13 L391.36,87.13 L391.86,87.13 L392.35,87.14 L392.85,87.14 L393.35,87.15 L393.84,87.15 L394.34,87.15 L394.83,87.16 L395.33,87.16 L395.83,87.16 L396.32,87.17 L396.82,87.17 L397.32,87.17 L397.81,87.18 L398.31,87.18 L398.80,87.19 L399.30,87.19 L399.80,87.19 L400.29,87.20 L400.79,87.20 L401.29,87.20 L401.78,87.21 L402.28,87.21 L402.78,87.22 L403.27,87.22 L403.77,87.22 L404.26,87.23 L404.76,87.23 L405.26,87.23 L405.75,87.24 L406.25,87.24 L406.75,87.25 L407.24,87.25 L407.74,87.25 L408.23,87.26 L408.73,87.26 L409.23,87.26 L409.72,87.27 L410.22,87.27 L410.72,87.27 L411.21,87.28 L411.71,87.28 L412.21,87.29 L412.70,87.29 L413.20,87.29 L413.69,87.30 L414.19,87.30 L414.69,87.30 L415.18,87.31 L415.68,87.31 L416.18,87.32 L416.67,87.32 L417.17,87.32 L417.66,87.33 L418.16,87.33 L418.66,87.33 L419.15,87.34 L419.65,87.34 L420.15,87.35 L420.64,87.35 L421.14,87.35 L421.63,87.36 L422.13,87.36 L422.63,87.36 L423.12,87.37 L423.62,87.37 L424.12,87.37 L424.61,87.38 L425.11,87.38 L425.61,87.39 L426.10,87.39 L426.60,87.39 L427.09,87.40" fill="none" stroke="#d3303c" stroke-width="1.3" stroke-linejoin="round" />
<rect x="238.5" y="17.5" width="189.0" height="151.0" fill="none" stroke="#222" stroke-width="1"/>
<line x1="253.39" y1="168.5" x2="253.39" y2="170.3" stroke="#222" stroke-width="1"/>
<line x1="278.20" y1="168.5" x2="278.20" y2="171.7" stroke="#222" stroke-width="1"/>
<text x="0" y="0" transform="translate(278.20,183.5) scale(1,1.1)" font-size="9.3" text-anchor="middle" fill="#222" stroke="#222" stroke-width="0.12" >10</text>
<line x1="303.02" y1="168.5" x2="303.02" y2="170.3" stroke="#222" stroke-width="1"/>
<line x1="327.83" y1="168.5" x2="327.83" y2="171.7" stroke="#222" stroke-width="1"/>
<text x="0" y="0" transform="translate(327.83,183.5) scale(1,1.1)" font-size="9.3" text-anchor="middle" fill="#222" stroke="#222" stroke-width="0.12" >20</text>
<line x1="352.65" y1="168.5" x2="352.65" y2="170.3" stroke="#222" stroke-width="1"/>
<line x1="377.46" y1="168.5" x2="377.46" y2="171.7" stroke="#222" stroke-width="1"/>
<text x="0" y="0" transform="translate(377.46,183.5) scale(1,1.1)" font-size="9.3" text-anchor="middle" fill="#222" stroke="#222" stroke-width="0.12" >30</text>
<line x1="402.28" y1="168.5" x2="402.28" y2="170.3" stroke="#222" stroke-width="1"/>
<line x1="427.09" y1="168.5" x2="427.09" y2="171.7" stroke="#222" stroke-width="1"/>
<text x="0" y="0" transform="translate(427.09,183.5) scale(1,1.1)" font-size="9.3" text-anchor="middle" fill="#222" stroke="#222" stroke-width="0.12" >40</text>
<text x="0" y="0" transform="translate(333.5,196.3) scale(1,1.1)" font-size="9.6" text-anchor="middle" fill="#222" stroke="#222" stroke-width="0.12" >2<tspan font-style="italic">θ</tspan> (°)</text>
<text x="0" y="0" font-size="9.3" text-anchor="middle" fill="#222" stroke="#222" stroke-width="0.12" transform="translate(232.8,92) rotate(-90) scale(1,1.1)">Intensity (a.u.)</text>
<text x="0" y="0" transform="translate(409.5,81.9) scale(1,1.1)" font-size="8.3" text-anchor="end" fill="#222" stroke="#222" stroke-width="0.12" >In 3N HCl for 7 days</text>
<text x="0" y="0" transform="translate(424.5,104.0) scale(1,1.1)" font-size="8.2" text-anchor="end" fill="#222" stroke="#222" stroke-width="0.12" >In Tris buffer(ph 8) for 7 days</text>
<text x="0" y="0" transform="translate(406.5,128.4) scale(1,1.1)" font-size="8.35" text-anchor="end" fill="#222" stroke="#222" stroke-width="0.12" >In water for 7 days</text>
<text x="0" y="0" transform="translate(399,150.0) scale(1,1.1)" font-size="8.35" text-anchor="end" fill="#222" stroke="#222" stroke-width="0.12" >As-synthesized</text>
<path d="M238.30,350.29 L238.41,350.28 L238.53,350.25 L238.64,350.20 L238.76,350.14 L238.87,350.06 L238.99,349.95 L239.10,349.83 L239.21,349.68 L239.33,349.50 L239.44,349.29 L239.56,349.06 L239.67,348.78 L239.78,348.47 L239.90,348.10 L240.01,347.69 L240.13,347.22 L240.24,346.69 L240.36,346.07 L240.47,345.38 L240.58,344.58 L240.70,343.66 L240.81,342.61 L240.93,341.41 L241.04,340.02 L241.15,338.42 L241.27,336.58 L241.38,334.45 L241.50,332.00 L241.61,329.18 L241.73,325.95 L241.84,322.29 L241.95,318.21 L242.07,313.74 L242.18,309.03 L242.30,304.30 L242.41,299.89 L242.52,296.26 L242.64,293.85 L242.75,293.03 L242.87,293.92 L242.98,296.40 L243.10,300.10 L243.21,304.58 L243.32,309.38 L243.44,314.17 L243.55,318.70 L243.67,322.86 L243.78,326.59 L243.89,329.89 L244.01,332.79 L244.12,335.32 L244.24,337.52 L244.35,339.44 L244.47,341.12 L244.58,342.58 L244.69,343.87 L244.81,345.00 L244.92,346.00 L245.04,346.88 L245.15,347.67 L245.26,348.37 L245.38,348.99 L245.49,349.56 L245.61,350.06 L245.72,350.52 L245.84,350.94 L245.95,351.31 L246.06,351.66 L246.18,351.97 L246.29,352.25 L246.41,352.52 L246.52,352.76 L246.64,352.98 L246.75,353.18 L246.86,353.37 L246.98,353.55 L247.09,353.71 L247.21,353.86 L247.32,354.00 L247.43,354.13 L247.55,354.25 L247.66,354.36 L247.78,354.47 L247.89,354.57 L248.01,354.66 L248.12,354.75 L248.23,354.83 L248.35,354.90 L248.46,354.97 L248.58,355.04 L248.69,355.10 L248.80,355.15 L248.92,355.21 L249.03,355.26 L249.15,355.30 L249.26,355.35 L249.38,355.38 L249.49,355.42 L249.60,355.45 L249.72,355.48 L250.29,355.59 L250.86,355.63 L251.43,355.57 L252.00,355.40 L252.57,355.02 L253.14,354.27 L253.71,352.92 L254.29,351.27 L254.86,351.25 L255.43,352.86 L256.00,354.12 L256.57,354.72 L257.14,354.82 L257.71,354.44 L258.28,353.48 L258.85,352.22 L259.42,352.30 L259.99,353.75 L260.57,354.95 L261.14,355.65 L261.71,356.05 L262.28,356.29 L262.85,356.43 L263.42,356.53 L263.99,356.59 L264.56,356.61 L265.13,356.62 L265.70,356.59 L266.27,356.53 L266.84,356.42 L267.42,356.21 L267.99,355.86 L268.56,355.24 L269.13,354.35 L269.70,353.81 L270.27,354.37 L270.84,355.28 L271.41,355.92 L271.98,356.30 L272.55,356.53 L273.12,356.67 L273.70,356.77 L274.27,356.83 L274.84,356.87 L275.41,356.91 L275.98,356.93 L276.55,356.94 L277.12,356.95 L277.69,356.95 L278.26,356.95 L278.83,356.93 L279.40,356.91 L279.98,356.88 L280.55,356.82 L281.12,356.75 L281.69,356.64 L282.26,356.50 L282.83,356.37 L283.40,356.31 L283.97,356.38 L284.54,356.52 L285.11,356.66 L285.68,356.78 L286.26,356.87 L286.83,356.93 L287.40,356.97 L287.97,357.01 L288.54,357.03 L289.11,357.05 L289.68,357.07 L290.25,357.08 L290.82,357.09 L291.39,357.10 L291.96,357.11 L292.54,357.11 L293.11,357.12 L293.68,357.12 L294.25,357.13 L294.82,357.13 L295.39,357.13 L295.96,357.14 L296.53,357.14 L297.10,357.14 L297.67,357.14 L298.24,357.15 L298.82,357.15 L299.39,357.15 L299.96,357.15 L300.53,357.15 L301.10,357.15 L301.67,357.15 L302.24,357.16 L302.81,357.16 L303.38,357.16 L303.95,357.16 L304.52,357.16 L305.10,357.16 L305.67,357.16 L306.24,357.16 L306.81,357.16 L307.38,357.16 L307.95,357.16 L308.52,357.16 L309.09,357.16 L309.66,357.16 L310.23,357.16 L310.80,357.17 L311.38,357.17 L311.95,357.17 L312.52,357.17 L313.09,357.17 L313.66,357.17 L314.23,357.17 L314.80,357.17 L315.37,357.17 L315.94,357.17 L316.51,357.17 L317.08,357.17 L317.66,357.17 L318.23,357.17 L318.80,357.17 L319.37,357.17 L319.94,357.17 L320.51,357.17 L321.08,357.17 L321.65,357.17 L322.22,357.17 L322.79,357.17 L323.36,357.17 L323.93,357.17 L324.51,357.17 L325.08,357.17 L325.65,357.17 L326.22,357.17 L326.79,357.17 L327.36,357.17 L327.93,357.17 L328.50,357.17 L329.07,357.17 L329.64,357.17 L330.21,357.17 L330.79,357.17 L331.36,357.17 L331.93,357.17 L332.50,357.16 L333.07,357.16 L333.64,357.16 L334.21,357.16 L334.78,357.16 L335.35,357.16 L335.92,357.16 L336.49,357.16 L337.07,357.16 L337.64,357.16 L338.21,357.16 L338.78,357.16 L339.35,357.16 L339.92,357.16 L340.49,357.16 L341.06,357.15 L341.63,357.15 L342.20,357.15 L342.77,357.15 L343.35,357.15 L343.92,357.15 L344.49,357.15 L345.06,357.15 L345.63,357.14 L346.20,357.14 L346.77,357.14 L347.34,357.14 L347.91,357.14 L348.48,357.14 L349.05,357.13 L349.63,357.13 L350.20,357.13 L350.77,357.13 L351.34,357.12 L351.91,357.12 L352.48,357.12 L353.05,357.11 L353.62,357.11 L354.19,357.11 L354.76,357.10 L355.33,357.10 L355.91,357.09 L356.48,357.09 L357.05,357.08 L357.62,357.08 L358.19,357.07 L358.76,357.07 L359.33,357.06 L359.90,357.05 L360.47,357.04 L361.04,357.03 L361.61,357.02 L362.19,357.01 L362.76,357.00 L363.33,356.99 L363.90,356.98 L364.47,356.96 L365.04,356.95 L365.61,356.93 L366.18,356.91 L366.75,356.89 L367.32,356.87 L367.89,356.85 L368.47,356.83 L369.04,356.80 L369.61,356.78 L370.18,356.75 L370.75,356.73 L371.32,356.70 L371.89,356.68 L372.46,356.65 L373.03,356.63 L373.60,356.62 L374.17,356.61 L374.75,356.60 L375.32,356.59 L375.89,356.60 L376.46,356.61 L377.03,356.62 L377.60,356.63 L378.17,356.66 L378.74,356.68 L379.31,356.70 L379.88,356.73 L380.45,356.75 L381.03,356.78 L381.60,356.81 L382.17,356.83 L382.74,356.85 L383.31,356.87 L383.88,356.90 L384.45,356.91 L385.02,356.93 L385.59,356.95 L386.16,356.97 L386.73,356.98 L387.30,356.99 L387.88,357.01 L388.45,357.02 L389.02,357.03 L389.59,357.04 L390.16,357.05 L390.73,357.05 L391.30,357.06 L391.87,357.07 L392.44,357.08 L393.01,357.08 L393.58,357.09 L394.16,357.09 L394.73,357.10 L395.30,357.10 L395.87,357.11 L396.44,357.11 L397.01,357.12 L397.58,357.12 L398.15,357.12 L398.72,357.13 L399.29,357.13 L399.86,357.13 L400.44,357.13 L401.01,357.14 L401.58,357.14 L402.15,357.14 L402.72,357.14 L403.29,357.15 L403.86,357.15 L404.43,357.15 L405.00,357.15 L405.57,357.15 L406.14,357.15 L406.72,357.16 L407.29,357.16 L407.86,357.16 L408.43,357.16 L409.00,357.16 L409.57,357.16 L410.14,357.16 L410.71,357.16 L411.28,357.16 L411.85,357.17 L412.42,357.17 L413.00,357.17 L413.57,357.17 L414.14,357.17 L414.71,357.17 L415.28,357.17 L415.85,357.17 L416.42,357.17 L416.99,357.17 L417.56,357.17 L418.13,357.17 L418.70,357.17 L419.28,357.18 L419.85,357.18 L420.42,357.18 L420.99,357.18 L421.56,357.18 L422.13,357.18 L422.70,357.18 L423.27,357.18 L423.84,357.18 L424.41,357.18 L424.98,357.18 L425.56,357.18 L426.13,357.18 L426.70,357.18" fill="none" stroke="#111111" stroke-width="1.3" stroke-linejoin="round" />
<path d="M238.30,332.10 L238.41,332.09 L238.53,332.06 L238.64,332.01 L238.76,331.95 L238.87,331.87 L238.99,331.76 L239.10,331.64 L239.21,331.49 L239.33,331.31 L239.44,331.10 L239.56,330.87 L239.67,330.59 L239.78,330.28 L239.90,329.92 L240.01,329.50 L240.13,329.03 L240.24,328.50 L240.36,327.89 L240.47,327.19 L240.58,326.39 L240.70,325.47 L240.81,324.43 L240.93,323.22 L241.04,321.84 L241.15,320.24 L241.27,318.40 L241.38,316.27 L241.50,313.82 L241.61,311.00 L241.73,307.77 L241.84,304.11 L241.95,300.02 L242.07,295.56 L242.18,290.85 L242.30,286.11 L242.41,281.71 L242.52,278.07 L242.64,275.67 L242.75,274.84 L242.87,275.74 L242.98,278.22 L243.10,281.92 L243.21,286.40 L243.32,291.20 L243.44,295.98 L243.55,300.52 L243.67,304.68 L243.78,308.41 L243.89,311.71 L244.01,314.61 L244.12,317.14 L244.24,319.34 L244.35,321.26 L244.47,322.94 L244.58,324.40 L244.69,325.69 L244.81,326.82 L244.92,327.82 L245.04,328.71 L245.15,329.49 L245.26,330.19 L245.38,330.82 L245.49,331.38 L245.61,331.89 L245.72,332.35 L245.84,332.76 L245.95,333.14 L246.06,333.48 L246.18,333.80 L246.29,334.08 L246.41,334.35 L246.52,334.59 L246.64,334.81 L246.75,335.02 L246.86,335.21 L246.98,335.38 L247.09,335.55 L247.21,335.70 L247.32,335.84 L247.43,335.97 L247.55,336.09 L247.66,336.21 L247.78,336.31 L247.89,336.41 L248.01,336.50 L248.12,336.59 L248.23,336.67 L248.35,336.75 L248.46,336.82 L248.58,336.89 L248.69,336.95 L248.80,337.01 L248.92,337.07 L249.03,337.12 L249.15,337.16 L249.26,337.21 L249.38,337.25 L249.49,337.29 L249.60,337.33 L249.72,337.36 L250.29,337.48 L250.86,337.54 L251.43,337.53 L252.00,337.41 L252.57,337.12 L253.14,336.54 L253.71,335.47 L254.29,334.16 L254.86,334.16 L255.43,335.45 L256.00,336.47 L256.57,336.95 L257.14,337.04 L257.71,336.74 L258.28,335.97 L258.85,334.97 L259.42,335.04 L259.99,336.20 L260.57,337.16 L261.14,337.72 L261.71,338.04 L262.28,338.24 L262.85,338.36 L263.42,338.43 L263.99,338.48 L264.56,338.51 L265.13,338.51 L265.70,338.49 L266.27,338.44 L266.84,338.35 L267.42,338.19 L267.99,337.91 L268.56,337.41 L269.13,336.70 L269.70,336.27 L270.27,336.72 L270.84,337.45 L271.41,337.96 L271.98,338.27 L272.55,338.45 L273.12,338.56 L273.70,338.64 L274.27,338.69 L274.84,338.73 L275.41,338.75 L275.98,338.77 L276.55,338.78 L277.12,338.79 L277.69,338.79 L278.26,338.79 L278.83,338.78 L279.40,338.76 L279.98,338.73 L280.55,338.69 L281.12,338.63 L281.69,338.54 L282.26,338.43 L282.83,338.33 L283.40,338.28 L283.97,338.34 L284.54,338.45 L285.11,338.56 L285.68,338.66 L286.26,338.73 L286.83,338.78 L287.40,338.81 L287.97,338.84 L288.54,338.86 L289.11,338.88 L289.68,338.89 L290.25,338.90 L290.82,338.91 L291.39,338.91 L291.96,338.92 L292.54,338.93 L293.11,338.93 L293.68,338.93 L294.25,338.94 L294.82,338.94 L295.39,338.94 L295.96,338.94 L296.53,338.95 L297.10,338.95 L297.67,338.95 L298.24,338.95 L298.82,338.95 L299.39,338.96 L299.96,338.96 L300.53,338.96 L301.10,338.96 L301.67,338.96 L302.24,338.96 L302.81,338.96 L303.38,338.96 L303.95,338.96 L304.52,338.96 L305.10,338.96 L305.67,338.97 L306.24,338.97 L306.81,338.97 L307.38,338.97 L307.95,338.97 L308.52,338.97 L309.09,338.97 L309.66,338.97 L310.23,338.97 L310.80,338.97 L311.38,338.97 L311.95,338.97 L312.52,338.97 L313.09,338.97 L313.66,338.97 L314.23,338.97 L314.80,338.97 L315.37,338.97 L315.94,338.97 L316.51,338.97 L317.08,338.97 L317.66,338.97 L318.23,338.97 L318.80,338.97 L319.37,338.97 L319.94,338.97 L320.51,338.97 L321.08,338.97 L321.65,338.97 L322.22,338.97 L322.79,338.97 L323.36,338.97 L323.93,338.97 L324.51,338.97 L325.08,338.97 L325.65,338.97 L326.22,338.97 L326.79,338.97 L327.36,338.97 L327.93,338.97 L328.50,338.97 L329.07,338.97 L329.64,338.97 L330.21,338.97 L330.79,338.97 L331.36,338.97 L331.93,338.97 L332.50,338.97 L333.07,338.97 L333.64,338.97 L334.21,338.97 L334.78,338.97 L335.35,338.97 L335.92,338.97 L336.49,338.97 L337.07,338.97 L337.64,338.97 L338.21,338.97 L338.78,338.97 L339.35,338.96 L339.92,338.96 L340.49,338.96 L341.06,338.96 L341.63,338.96 L342.20,338.96 L342.77,338.96 L343.35,338.96 L343.92,338.96 L344.49,338.96 L345.06,338.96 L345.63,338.95 L346.20,338.95 L346.77,338.95 L347.34,338.95 L347.91,338.95 L348.48,338.95 L349.05,338.95 L349.63,338.94 L350.20,338.94 L350.77,338.94 L351.34,338.94 L351.91,338.94 L352.48,338.93 L353.05,338.93 L353.62,338.93 L354.19,338.93 L354.76,338.92 L355.33,338.92 L355.91,338.92 L356.48,338.91 L357.05,338.91 L357.62,338.90 L358.19,338.90 L358.76,338.89 L359.33,338.89 L359.90,338.88 L360.47,338.87 L361.04,338.87 L361.61,338.86 L362.19,338.85 L362.76,338.84 L363.33,338.83 L363.90,338.82 L364.47,338.81 L365.04,338.80 L365.61,338.78 L366.18,338.77 L366.75,338.75 L367.32,338.74 L367.89,338.72 L368.47,338.70 L369.04,338.68 L369.61,338.66 L370.18,338.64 L370.75,338.62 L371.32,338.60 L371.89,338.58 L372.46,338.56 L373.03,338.55 L373.60,338.53 L374.17,338.52 L374.75,338.52 L375.32,338.52 L375.89,338.52 L376.46,338.52 L377.03,338.53 L377.60,338.55 L378.17,338.56 L378.74,338.58 L379.31,338.60 L379.88,338.62 L380.45,338.64 L381.03,338.66 L381.60,338.68 L382.17,338.70 L382.74,338.72 L383.31,338.74 L383.88,338.76 L384.45,338.77 L385.02,338.79 L385.59,338.80 L386.16,338.81 L386.73,338.82 L387.30,338.83 L387.88,338.84 L388.45,338.85 L389.02,338.86 L389.59,338.87 L390.16,338.88 L390.73,338.88 L391.30,338.89 L391.87,338.89 L392.44,338.90 L393.01,338.91 L393.58,338.91 L394.16,338.91 L394.73,338.92 L395.30,338.92 L395.87,338.93 L396.44,338.93 L397.01,338.93 L397.58,338.93 L398.15,338.94 L398.72,338.94 L399.29,338.94 L399.86,338.94 L400.44,338.95 L401.01,338.95 L401.58,338.95 L402.15,338.95 L402.72,338.95 L403.29,338.96 L403.86,338.96 L404.43,338.96 L405.00,338.96 L405.57,338.96 L406.14,338.96 L406.72,338.96 L407.29,338.96 L407.86,338.97 L408.43,338.97 L409.00,338.97 L409.57,338.97 L410.14,338.97 L410.71,338.97 L411.28,338.97 L411.85,338.97 L412.42,338.97 L413.00,338.97 L413.57,338.97 L414.14,338.97 L414.71,338.98 L415.28,338.98 L415.85,338.98 L416.42,338.98 L416.99,338.98 L417.56,338.98 L418.13,338.98 L418.70,338.98 L419.28,338.98 L419.85,338.98 L420.42,338.98 L420.99,338.98 L421.56,338.98 L422.13,338.98 L422.70,338.98 L423.27,338.98 L423.84,338.98 L424.41,338.98 L424.98,338.98 L425.56,338.98 L426.13,338.98 L426.70,338.98" fill="none" stroke="#2eaa60" stroke-width="1.3" stroke-linejoin="round" />
<path d="M238.30,314.08 L238.41,314.07 L238.53,314.04 L238.64,313.99 L238.76,313.93 L238.87,313.84 L238.99,313.74 L239.10,313.62 L239.21,313.47 L239.33,313.29 L239.44,313.08 L239.56,312.84 L239.67,312.57 L239.78,312.25 L239.90,311.89 L240.01,311.48 L240.13,311.01 L240.24,310.47 L240.36,309.86 L240.47,309.16 L240.58,308.36 L240.70,307.45 L240.81,306.40 L240.93,305.20 L241.04,303.81 L241.15,302.21 L241.27,300.37 L241.38,298.24 L241.50,295.79 L241.61,292.97 L241.73,289.74 L241.84,286.08 L241.95,281.99 L242.07,277.53 L242.18,272.81 L242.30,268.08 L242.41,263.68 L242.52,260.04 L242.64,257.63 L242.75,256.81 L242.87,257.70 L242.98,260.18 L243.10,263.89 L243.21,268.36 L243.32,273.16 L243.44,277.95 L243.55,282.48 L243.67,286.64 L243.78,290.37 L243.89,293.67 L244.01,296.57 L244.12,299.10 L244.24,301.30 L244.35,303.22 L244.47,304.89 L244.58,306.36 L244.69,307.64 L244.81,308.78 L244.92,309.77 L245.04,310.66 L245.15,311.44 L245.26,312.14 L245.38,312.77 L245.49,313.33 L245.61,313.84 L245.72,314.29 L245.84,314.71 L245.95,315.08 L246.06,315.43 L246.18,315.74 L246.29,316.02 L246.41,316.28 L246.52,316.53 L246.64,316.75 L246.75,316.95 L246.86,317.14 L246.98,317.31 L247.09,317.47 L247.21,317.62 L247.32,317.76 L247.43,317.89 L247.55,318.01 L247.66,318.12 L247.78,318.23 L247.89,318.32 L248.01,318.41 L248.12,318.50 L248.23,318.58 L248.35,318.65 L248.46,318.72 L248.58,318.78 L248.69,318.84 L248.80,318.90 L248.92,318.95 L249.03,319.00 L249.15,319.04 L249.26,319.08 L249.38,319.12 L249.49,319.15 L249.60,319.18 L249.72,319.21 L250.29,319.30 L250.86,319.31 L251.43,319.22 L252.00,318.99 L252.57,318.51 L253.14,317.60 L253.71,315.98 L254.29,313.98 L254.86,313.95 L255.43,315.87 L256.00,317.38 L256.57,318.09 L257.14,318.20 L257.71,317.75 L258.28,316.58 L258.85,315.07 L259.42,315.17 L259.99,316.91 L260.57,318.34 L261.14,319.17 L261.71,319.65 L262.28,319.94 L262.85,320.11 L263.42,320.22 L263.99,320.29 L264.56,320.32 L265.13,320.32 L265.70,320.29 L266.27,320.22 L266.84,320.08 L267.42,319.84 L267.99,319.41 L268.56,318.66 L269.13,317.60 L269.70,316.95 L270.27,317.62 L270.84,318.71 L271.41,319.48 L271.98,319.93 L272.55,320.21 L273.12,320.38 L273.70,320.49 L274.27,320.57 L274.84,320.62 L275.41,320.66 L275.98,320.68 L276.55,320.70 L277.12,320.71 L277.69,320.71 L278.26,320.71 L278.83,320.69 L279.40,320.66 L279.98,320.62 L280.55,320.56 L281.12,320.46 L281.69,320.33 L282.26,320.17 L282.83,320.01 L283.40,319.94 L283.97,320.02 L284.54,320.19 L285.11,320.36 L285.68,320.50 L286.26,320.61 L286.83,320.68 L287.40,320.74 L287.97,320.78 L288.54,320.81 L289.11,320.83 L289.68,320.85 L290.25,320.86 L290.82,320.87 L291.39,320.88 L291.96,320.89 L292.54,320.90 L293.11,320.91 L293.68,320.91 L294.25,320.92 L294.82,320.92 L295.39,320.92 L295.96,320.93 L296.53,320.93 L297.10,320.93 L297.67,320.94 L298.24,320.94 L298.82,320.94 L299.39,320.94 L299.96,320.94 L300.53,320.95 L301.10,320.95 L301.67,320.95 L302.24,320.95 L302.81,320.95 L303.38,320.95 L303.95,320.95 L304.52,320.95 L305.10,320.95 L305.67,320.96 L306.24,320.96 L306.81,320.96 L307.38,320.96 L307.95,320.96 L308.52,320.96 L309.09,320.96 L309.66,320.96 L310.23,320.96 L310.80,320.96 L311.38,320.96 L311.95,320.96 L312.52,320.96 L313.09,320.96 L313.66,320.96 L314.23,320.96 L314.80,320.96 L315.37,320.96 L315.94,320.96 L316.51,320.96 L317.08,320.96 L317.66,320.96 L318.23,320.96 L318.80,320.96 L319.37,320.96 L319.94,320.96 L320.51,320.96 L321.08,320.96 L321.65,320.96 L322.22,320.96 L322.79,320.96 L323.36,320.96 L323.93,320.96 L324.51,320.96 L325.08,320.96 L325.65,320.96 L326.22,320.96 L326.79,320.96 L327.36,320.96 L327.93,320.96 L328.50,320.96 L329.07,320.96 L329.64,320.96 L330.21,320.96 L330.79,320.96 L331.36,320.96 L331.93,320.96 L332.50,320.96 L333.07,320.96 L333.64,320.96 L334.21,320.96 L334.78,320.96 L335.35,320.96 L335.92,320.96 L336.49,320.95 L337.07,320.95 L337.64,320.95 L338.21,320.95 L338.78,320.95 L339.35,320.95 L339.92,320.95 L340.49,320.95 L341.06,320.95 L341.63,320.95 L342.20,320.94 L342.77,320.94 L343.35,320.94 L343.92,320.94 L344.49,320.94 L345.06,320.94 L345.63,320.94 L346.20,320.93 L346.77,320.93 L347.34,320.93 L347.91,320.93 L348.48,320.92 L349.05,320.92 L349.63,320.92 L350.20,320.92 L350.77,320.91 L351.34,320.91 L351.91,320.91 L352.48,320.90 L353.05,320.90 L353.62,320.89 L354.19,320.89 L354.76,320.89 L355.33,320.88 L355.91,320.87 L356.48,320.87 L357.05,320.86 L357.62,320.86 L358.19,320.85 L358.76,320.84 L359.33,320.83 L359.90,320.82 L360.47,320.81 L361.04,320.80 L361.61,320.79 L362.19,320.78 L362.76,320.76 L363.33,320.75 L363.90,320.73 L364.47,320.72 L365.04,320.70 L365.61,320.68 L366.18,320.66 L366.75,320.63 L367.32,320.61 L367.89,320.58 L368.47,320.55 L369.04,320.53 L369.61,320.50 L370.18,320.46 L370.75,320.43 L371.32,320.40 L371.89,320.37 L372.46,320.35 L373.03,320.32 L373.60,320.30 L374.17,320.29 L374.75,320.28 L375.32,320.27 L375.89,320.28 L376.46,320.29 L377.03,320.30 L377.60,320.32 L378.17,320.35 L378.74,320.37 L379.31,320.40 L379.88,320.43 L380.45,320.47 L381.03,320.50 L381.60,320.53 L382.17,320.56 L382.74,320.58 L383.31,320.61 L383.88,320.64 L384.45,320.66 L385.02,320.68 L385.59,320.70 L386.16,320.72 L386.73,320.74 L387.30,320.75 L387.88,320.77 L388.45,320.78 L389.02,320.79 L389.59,320.81 L390.16,320.82 L390.73,320.83 L391.30,320.84 L391.87,320.84 L392.44,320.85 L393.01,320.86 L393.58,320.87 L394.16,320.87 L394.73,320.88 L395.30,320.88 L395.87,320.89 L396.44,320.89 L397.01,320.90 L397.58,320.90 L398.15,320.91 L398.72,320.91 L399.29,320.91 L399.86,320.92 L400.44,320.92 L401.01,320.92 L401.58,320.93 L402.15,320.93 L402.72,320.93 L403.29,320.93 L403.86,320.94 L404.43,320.94 L405.00,320.94 L405.57,320.94 L406.14,320.94 L406.72,320.95 L407.29,320.95 L407.86,320.95 L408.43,320.95 L409.00,320.95 L409.57,320.95 L410.14,320.96 L410.71,320.96 L411.28,320.96 L411.85,320.96 L412.42,320.96 L413.00,320.96 L413.57,320.96 L414.14,320.96 L414.71,320.96 L415.28,320.97 L415.85,320.97 L416.42,320.97 L416.99,320.97 L417.56,320.97 L418.13,320.97 L418.70,320.97 L419.28,320.97 L419.85,320.97 L420.42,320.97 L420.99,320.97 L421.56,320.97 L422.13,320.97 L422.70,320.97 L423.27,320.97 L423.84,320.98 L424.41,320.98 L424.98,320.98 L425.56,320.98 L426.13,320.98 L426.70,320.98" fill="none" stroke="#2fb5e0" stroke-width="1.3" stroke-linejoin="round" />
<path d="M238.30,295.74 L238.41,295.73 L238.53,295.70 L238.64,295.66 L238.76,295.60 L238.87,295.52 L238.99,295.42 L239.10,295.29 L239.21,295.15 L239.33,294.98 L239.44,294.78 L239.56,294.54 L239.67,294.27 L239.78,293.96 L239.90,293.61 L240.01,293.21 L240.13,292.75 L240.24,292.22 L240.36,291.62 L240.47,290.93 L240.58,290.15 L240.70,289.25 L240.81,288.22 L240.93,287.03 L241.04,285.67 L241.15,284.10 L241.27,282.28 L241.38,280.19 L241.50,277.78 L241.61,275.00 L241.73,271.83 L241.84,268.23 L241.95,264.21 L242.07,259.81 L242.18,255.18 L242.30,250.52 L242.41,246.19 L242.52,242.61 L242.64,240.24 L242.75,239.43 L242.87,240.31 L242.98,242.75 L243.10,246.40 L243.21,250.80 L243.32,255.53 L243.44,260.24 L243.55,264.70 L243.67,268.80 L243.78,272.47 L243.89,275.72 L244.01,278.57 L244.12,281.06 L244.24,283.23 L244.35,285.12 L244.47,286.76 L244.58,288.21 L244.69,289.47 L244.81,290.59 L244.92,291.57 L245.04,292.44 L245.15,293.21 L245.26,293.90 L245.38,294.52 L245.49,295.08 L245.61,295.57 L245.72,296.03 L245.84,296.43 L245.95,296.80 L246.06,297.14 L246.18,297.45 L246.29,297.73 L246.41,297.99 L246.52,298.23 L246.64,298.45 L246.75,298.65 L246.86,298.83 L246.98,299.01 L247.09,299.17 L247.21,299.31 L247.32,299.45 L247.43,299.58 L247.55,299.70 L247.66,299.81 L247.78,299.92 L247.89,300.01 L248.01,300.10 L248.12,300.19 L248.23,300.27 L248.35,300.34 L248.46,300.41 L248.58,300.48 L248.69,300.54 L248.80,300.59 L248.92,300.65 L249.03,300.69 L249.15,300.74 L249.26,300.78 L249.38,300.82 L249.49,300.86 L249.60,300.89 L249.72,300.92 L250.29,301.03 L250.86,301.07 L251.43,301.02 L252.00,300.86 L252.57,300.50 L253.14,299.80 L253.71,298.52 L254.29,296.95 L254.86,296.94 L255.43,298.46 L256.00,299.66 L256.57,300.23 L257.14,300.33 L257.71,299.97 L258.28,299.05 L258.85,297.86 L259.42,297.94 L259.99,299.32 L260.57,300.46 L261.14,301.12 L261.71,301.50 L262.28,301.73 L262.85,301.87 L263.42,301.96 L263.99,302.01 L264.56,302.04 L265.13,302.04 L265.70,302.02 L266.27,301.96 L266.84,301.85 L267.42,301.66 L267.99,301.32 L268.56,300.73 L269.13,299.89 L269.70,299.38 L270.27,299.91 L270.84,300.77 L271.41,301.38 L271.98,301.74 L272.55,301.96 L273.12,302.10 L273.70,302.19 L274.27,302.25 L274.84,302.29 L275.41,302.32 L275.98,302.34 L276.55,302.35 L277.12,302.36 L277.69,302.36 L278.26,302.36 L278.83,302.35 L279.40,302.33 L279.98,302.29 L280.55,302.24 L281.12,302.17 L281.69,302.07 L282.26,301.94 L282.83,301.81 L283.40,301.76 L283.97,301.82 L284.54,301.95 L285.11,302.09 L285.68,302.20 L286.26,302.28 L286.83,302.34 L287.40,302.38 L287.97,302.42 L288.54,302.44 L289.11,302.46 L289.68,302.47 L290.25,302.49 L290.82,302.50 L291.39,302.50 L291.96,302.51 L292.54,302.52 L293.11,302.52 L293.68,302.53 L294.25,302.53 L294.82,302.53 L295.39,302.54 L295.96,302.54 L296.53,302.54 L297.10,302.54 L297.67,302.55 L298.24,302.55 L298.82,302.55 L299.39,302.55 L299.96,302.55 L300.53,302.55 L301.10,302.55 L301.67,302.56 L302.24,302.56 L302.81,302.56 L303.38,302.56 L303.95,302.56 L304.52,302.56 L305.10,302.56 L305.67,302.56 L306.24,302.56 L306.81,302.56 L307.38,302.56 L307.95,302.56 L308.52,302.56 L309.09,302.57 L309.66,302.57 L310.23,302.57 L310.80,302.57 L311.38,302.57 L311.95,302.57 L312.52,302.57 L313.09,302.57 L313.66,302.57 L314.23,302.57 L314.80,302.57 L315.37,302.57 L315.94,302.57 L316.51,302.57 L317.08,302.57 L317.66,302.57 L318.23,302.57 L318.80,302.57 L319.37,302.57 L319.94,302.57 L320.51,302.57 L321.08,302.57 L321.65,302.57 L322.22,302.57 L322.79,302.57 L323.36,302.57 L323.93,302.57 L324.51,302.57 L325.08,302.57 L325.65,302.57 L326.22,302.57 L326.79,302.57 L327.36,302.57 L327.93,302.57 L328.50,302.57 L329.07,302.57 L329.64,302.57 L330.21,302.57 L330.79,302.57 L331.36,302.57 L331.93,302.57 L332.50,302.57 L333.07,302.57 L333.64,302.57 L334.21,302.56 L334.78,302.56 L335.35,302.56 L335.92,302.56 L336.49,302.56 L337.07,302.56 L337.64,302.56 L338.21,302.56 L338.78,302.56 L339.35,302.56 L339.92,302.56 L340.49,302.56 L341.06,302.56 L341.63,302.56 L342.20,302.55 L342.77,302.55 L343.35,302.55 L343.92,302.55 L344.49,302.55 L345.06,302.55 L345.63,302.55 L346.20,302.55 L346.77,302.54 L347.34,302.54 L347.91,302.54 L348.48,302.54 L349.05,302.54 L349.63,302.53 L350.20,302.53 L350.77,302.53 L351.34,302.53 L351.91,302.53 L352.48,302.52 L353.05,302.52 L353.62,302.52 L354.19,302.51 L354.76,302.51 L355.33,302.50 L355.91,302.50 L356.48,302.50 L357.05,302.49 L357.62,302.49 L358.19,302.48 L358.76,302.47 L359.33,302.47 L359.90,302.46 L360.47,302.45 L361.04,302.44 L361.61,302.43 L362.19,302.42 L362.76,302.41 L363.33,302.40 L363.90,302.39 L364.47,302.38 L365.04,302.36 L365.61,302.34 L366.18,302.33 L366.75,302.31 L367.32,302.29 L367.89,302.27 L368.47,302.25 L369.04,302.22 L369.61,302.20 L370.18,302.18 L370.75,302.15 L371.32,302.13 L371.89,302.10 L372.46,302.08 L373.03,302.06 L373.60,302.05 L374.17,302.03 L374.75,302.03 L375.32,302.02 L375.89,302.03 L376.46,302.04 L377.03,302.05 L377.60,302.06 L378.17,302.08 L378.74,302.10 L379.31,302.13 L379.88,302.15 L380.45,302.18 L381.03,302.20 L381.60,302.22 L382.17,302.25 L382.74,302.27 L383.31,302.29 L383.88,302.31 L384.45,302.33 L385.02,302.35 L385.59,302.36 L386.16,302.38 L386.73,302.39 L387.30,302.40 L387.88,302.41 L388.45,302.43 L389.02,302.44 L389.59,302.45 L390.16,302.45 L390.73,302.46 L391.30,302.47 L391.87,302.48 L392.44,302.48 L393.01,302.49 L393.58,302.49 L394.16,302.50 L394.73,302.50 L395.30,302.51 L395.87,302.51 L396.44,302.52 L397.01,302.52 L397.58,302.52 L398.15,302.53 L398.72,302.53 L399.29,302.53 L399.86,302.53 L400.44,302.54 L401.01,302.54 L401.58,302.54 L402.15,302.54 L402.72,302.55 L403.29,302.55 L403.86,302.55 L404.43,302.55 L405.00,302.55 L405.57,302.55 L406.14,302.56 L406.72,302.56 L407.29,302.56 L407.86,302.56 L408.43,302.56 L409.00,302.56 L409.57,302.56 L410.14,302.56 L410.71,302.57 L411.28,302.57 L411.85,302.57 L412.42,302.57 L413.00,302.57 L413.57,302.57 L414.14,302.57 L414.71,302.57 L415.28,302.57 L415.85,302.57 L416.42,302.57 L416.99,302.57 L417.56,302.57 L418.13,302.58 L418.70,302.58 L419.28,302.58 L419.85,302.58 L420.42,302.58 L420.99,302.58 L421.56,302.58 L422.13,302.58 L422.70,302.58 L423.27,302.58 L423.84,302.58 L424.41,302.58 L424.98,302.58 L425.56,302.58 L426.13,302.58 L426.70,302.58" fill="none" stroke="#d8384a" stroke-width="1.3" stroke-linejoin="round" />
<path d="M238.30,276.37 L238.41,276.36 L238.53,276.32 L238.64,276.28 L238.76,276.21 L238.87,276.13 L238.99,276.02 L239.10,275.89 L239.21,275.74 L239.33,275.56 L239.44,275.35 L239.56,275.11 L239.67,274.84 L239.78,274.52 L239.90,274.15 L240.01,273.74 L240.13,273.26 L240.24,272.72 L240.36,272.10 L240.47,271.40 L240.58,270.59 L240.70,269.67 L240.81,268.61 L240.93,267.40 L241.04,266.00 L241.15,264.39 L241.27,262.53 L241.38,260.39 L241.50,257.91 L241.61,255.07 L241.73,251.82 L241.84,248.13 L241.95,244.01 L242.07,239.51 L242.18,234.76 L242.30,229.99 L242.41,225.55 L242.52,221.88 L242.64,219.46 L242.75,218.63 L242.87,219.53 L242.98,222.02 L243.10,225.76 L243.21,230.27 L243.32,235.11 L243.44,239.93 L243.55,244.50 L243.67,248.70 L243.78,252.46 L243.89,255.78 L244.01,258.70 L244.12,261.25 L244.24,263.47 L244.35,265.41 L244.47,267.09 L244.58,268.57 L244.69,269.87 L244.81,271.01 L244.92,272.01 L245.04,272.90 L245.15,273.70 L245.26,274.40 L245.38,275.03 L245.49,275.60 L245.61,276.11 L245.72,276.57 L245.84,276.99 L245.95,277.37 L246.06,277.72 L246.18,278.03 L246.29,278.32 L246.41,278.58 L246.52,278.83 L246.64,279.05 L246.75,279.26 L246.86,279.45 L246.98,279.62 L247.09,279.79 L247.21,279.94 L247.32,280.08 L247.43,280.21 L247.55,280.33 L247.66,280.45 L247.78,280.55 L247.89,280.65 L248.01,280.74 L248.12,280.83 L248.23,280.91 L248.35,280.99 L248.46,281.06 L248.58,281.12 L248.69,281.18 L248.80,281.24 L248.92,281.30 L249.03,281.34 L249.15,281.39 L249.26,281.43 L249.38,281.47 L249.49,281.51 L249.60,281.54 L249.72,281.57 L250.29,281.68 L250.86,281.72 L251.43,281.67 L252.00,281.49 L252.57,281.11 L253.14,280.37 L253.71,279.02 L254.29,277.37 L254.86,277.35 L255.43,278.95 L256.00,280.22 L256.57,280.82 L257.14,280.92 L257.71,280.54 L258.28,279.58 L258.85,278.31 L259.42,278.40 L259.99,279.85 L260.57,281.05 L261.14,281.75 L261.71,282.15 L262.28,282.38 L262.85,282.53 L263.42,282.63 L263.99,282.68 L264.56,282.71 L265.13,282.72 L265.70,282.69 L266.27,282.63 L266.84,282.52 L267.42,282.31 L267.99,281.95 L268.56,281.34 L269.13,280.45 L269.70,279.91 L270.27,280.47 L270.84,281.38 L271.41,282.02 L271.98,282.40 L272.55,282.63 L273.12,282.77 L273.70,282.87 L274.27,282.93 L274.84,282.97 L275.41,283.01 L275.98,283.03 L276.55,283.04 L277.12,283.05 L277.69,283.05 L278.26,283.05 L278.83,283.03 L279.40,283.01 L279.98,282.98 L280.55,282.92 L281.12,282.85 L281.69,282.74 L282.26,282.60 L282.83,282.47 L283.40,282.41 L283.97,282.48 L284.54,282.62 L285.11,282.76 L285.68,282.88 L286.26,282.97 L286.83,283.03 L287.40,283.07 L287.97,283.11 L288.54,283.13 L289.11,283.15 L289.68,283.17 L290.25,283.18 L290.82,283.19 L291.39,283.20 L291.96,283.21 L292.54,283.21 L293.11,283.22 L293.68,283.22 L294.25,283.23 L294.82,283.23 L295.39,283.23 L295.96,283.24 L296.53,283.24 L297.10,283.24 L297.67,283.24 L298.24,283.25 L298.82,283.25 L299.39,283.25 L299.96,283.25 L300.53,283.25 L301.10,283.25 L301.67,283.25 L302.24,283.25 L302.81,283.26 L303.38,283.26 L303.95,283.26 L304.52,283.26 L305.10,283.26 L305.67,283.26 L306.24,283.26 L306.81,283.26 L307.38,283.26 L307.95,283.26 L308.52,283.26 L309.09,283.26 L309.66,283.26 L310.23,283.26 L310.80,283.26 L311.38,283.27 L311.95,283.27 L312.52,283.27 L313.09,283.27 L313.66,283.27 L314.23,283.27 L314.80,283.27 L315.37,283.27 L315.94,283.27 L316.51,283.27 L317.08,283.27 L317.66,283.27 L318.23,283.27 L318.80,283.27 L319.37,283.27 L319.94,283.27 L320.51,283.27 L321.08,283.27 L321.65,283.27 L322.22,283.27 L322.79,283.27 L323.36,283.27 L323.93,283.27 L324.51,283.27 L325.08,283.27 L325.65,283.27 L326.22,283.27 L326.79,283.27 L327.36,283.27 L327.93,283.27 L328.50,283.27 L329.07,283.27 L329.64,283.27 L330.21,283.27 L330.79,283.27 L331.36,283.27 L331.93,283.26 L332.50,283.26 L333.07,283.26 L333.64,283.26 L334.21,283.26 L334.78,283.26 L335.35,283.26 L335.92,283.26 L336.49,283.26 L337.07,283.26 L337.64,283.26 L338.21,283.26 L338.78,283.26 L339.35,283.26 L339.92,283.26 L340.49,283.26 L341.06,283.25 L341.63,283.25 L342.20,283.25 L342.77,283.25 L343.35,283.25 L343.92,283.25 L344.49,283.25 L345.06,283.25 L345.63,283.24 L346.20,283.24 L346.77,283.24 L347.34,283.24 L347.91,283.24 L348.48,283.24 L349.05,283.23 L349.63,283.23 L350.20,283.23 L350.77,283.23 L351.34,283.22 L351.91,283.22 L352.48,283.22 L353.05,283.21 L353.62,283.21 L354.19,283.21 L354.76,283.20 L355.33,283.20 L355.91,283.19 L356.48,283.19 L357.05,283.18 L357.62,283.18 L358.19,283.17 L358.76,283.17 L359.33,283.16 L359.90,283.15 L360.47,283.14 L361.04,283.13 L361.61,283.12 L362.19,283.11 L362.76,283.10 L363.33,283.09 L363.90,283.08 L364.47,283.06 L365.04,283.05 L365.61,283.03 L366.18,283.01 L366.75,282.99 L367.32,282.97 L367.89,282.95 L368.47,282.93 L369.04,282.90 L369.61,282.88 L370.18,282.85 L370.75,282.83 L371.32,282.80 L371.89,282.78 L372.46,282.75 L373.03,282.73 L373.60,282.72 L374.17,282.71 L374.75,282.70 L375.32,282.69 L375.89,282.70 L376.46,282.71 L377.03,282.72 L377.60,282.73 L378.17,282.76 L378.74,282.78 L379.31,282.80 L379.88,282.83 L380.45,282.85 L381.03,282.88 L381.60,282.91 L382.17,282.93 L382.74,282.95 L383.31,282.97 L383.88,283.00 L384.45,283.01 L385.02,283.03 L385.59,283.05 L386.16,283.07 L386.73,283.08 L387.30,283.09 L387.88,283.11 L388.45,283.12 L389.02,283.13 L389.59,283.14 L390.16,283.15 L390.73,283.15 L391.30,283.16 L391.87,283.17 L392.44,283.18 L393.01,283.18 L393.58,283.19 L394.16,283.19 L394.73,283.20 L395.30,283.20 L395.87,283.21 L396.44,283.21 L397.01,283.22 L397.58,283.22 L398.15,283.22 L398.72,283.23 L399.29,283.23 L399.86,283.23 L400.44,283.23 L401.01,283.24 L401.58,283.24 L402.15,283.24 L402.72,283.24 L403.29,283.25 L403.86,283.25 L404.43,283.25 L405.00,283.25 L405.57,283.25 L406.14,283.25 L406.72,283.26 L407.29,283.26 L407.86,283.26 L408.43,283.26 L409.00,283.26 L409.57,283.26 L410.14,283.26 L410.71,283.26 L411.28,283.26 L411.85,283.27 L412.42,283.27 L413.00,283.27 L413.57,283.27 L414.14,283.27 L414.71,283.27 L415.28,283.27 L415.85,283.27 L416.42,283.27 L416.99,283.27 L417.56,283.27 L418.13,283.27 L418.70,283.27 L419.28,283.28 L419.85,283.28 L420.42,283.28 L420.99,283.28 L421.56,283.28 L422.13,283.28 L422.70,283.28 L423.27,283.28 L423.84,283.28 L424.41,283.28 L424.98,283.28 L425.56,283.28 L426.13,283.28 L426.70,283.28" fill="none" stroke="#4a4aa8" stroke-width="1.3" stroke-linejoin="round" />
<rect x="238.5" y="218.5" width="188.5" height="151.0" fill="none" stroke="#222" stroke-width="1"/>
<line x1="241.15" y1="369.5" x2="241.15" y2="371.3" stroke="#222" stroke-width="1"/>
<line x1="255.43" y1="369.5" x2="255.43" y2="372.7" stroke="#222" stroke-width="1"/>
<text x="0" y="0" transform="translate(255.43,384.5) scale(1,1.1)" font-size="9.3" text-anchor="middle" fill="#222" stroke="#222" stroke-width="0.12" >5</text>
<line x1="269.70" y1="369.5" x2="269.70" y2="371.3" stroke="#222" stroke-width="1"/>
<line x1="283.97" y1="369.5" x2="283.97" y2="372.7" stroke="#222" stroke-width="1"/>
<text x="0" y="0" transform="translate(283.97,384.5) scale(1,1.1)" font-size="9.3" text-anchor="middle" fill="#222" stroke="#222" stroke-width="0.12" >10</text>
<line x1="298.24" y1="369.5" x2="298.24" y2="371.3" stroke="#222" stroke-width="1"/>
<line x1="312.52" y1="369.5" x2="312.52" y2="372.7" stroke="#222" stroke-width="1"/>
<text x="0" y="0" transform="translate(312.52,384.5) scale(1,1.1)" font-size="9.3" text-anchor="middle" fill="#222" stroke="#222" stroke-width="0.12" >15</text>
<line x1="326.79" y1="369.5" x2="326.79" y2="371.3" stroke="#222" stroke-width="1"/>
<line x1="341.06" y1="369.5" x2="341.06" y2="372.7" stroke="#222" stroke-width="1"/>
<text x="0" y="0" transform="translate(341.06,384.5) scale(1,1.1)" font-size="9.3" text-anchor="middle" fill="#222" stroke="#222" stroke-width="0.12" >20</text>
<line x1="355.33" y1="369.5" x2="355.33" y2="371.3" stroke="#222" stroke-width="1"/>
<line x1="369.61" y1="369.5" x2="369.61" y2="372.7" stroke="#222" stroke-width="1"/>
<text x="0" y="0" transform="translate(369.61,384.5) scale(1,1.1)" font-size="9.3" text-anchor="middle" fill="#222" stroke="#222" stroke-width="0.12" >25</text>
<line x1="383.88" y1="369.5" x2="383.88" y2="371.3" stroke="#222" stroke-width="1"/>
<line x1="398.15" y1="369.5" x2="398.15" y2="372.7" stroke="#222" stroke-width="1"/>
<text x="0" y="0" transform="translate(398.15,384.5) scale(1,1.1)" font-size="9.3" text-anchor="middle" fill="#222" stroke="#222" stroke-width="0.12" >30</text>
<line x1="412.42" y1="369.5" x2="412.42" y2="371.3" stroke="#222" stroke-width="1"/>
<line x1="426.70" y1="369.5" x2="426.70" y2="372.7" stroke="#222" stroke-width="1"/>
<text x="0" y="0" transform="translate(426.70,384.5) scale(1,1.1)" font-size="9.3" text-anchor="middle" fill="#222" stroke="#222" stroke-width="0.12" >35</text>
<text x="0" y="0" transform="translate(333,397.3) scale(1,1.1)" font-size="9.6" text-anchor="middle" fill="#222" stroke="#222" stroke-width="0.12" >2<tspan font-style="italic">θ</tspan> (°)</text>
<text x="0" y="0" font-size="9.3" text-anchor="middle" fill="#222" stroke="#222" stroke-width="0.12" transform="translate(232.8,292.5) rotate(-90) scale(1,1.1)">Intensity (a.u.)</text>
<text x="0" y="0" transform="translate(414.4,277.8) scale(1,1.1)" font-size="8" text-anchor="end" fill="#222" stroke="#222" stroke-width="0.12" >72 h</text>
<text x="0" y="0" transform="translate(414.4,298.6) scale(1,1.1)" font-size="8" text-anchor="end" fill="#222" stroke="#222" stroke-width="0.12" >48 h</text>
<text x="0" y="0" transform="translate(414.4,318.1) scale(1,1.1)" font-size="8" text-anchor="end" fill="#222" stroke="#222" stroke-width="0.12" >36 h</text>
<text x="0" y="0" transform="translate(414.4,334.4) scale(1,1.1)" font-size="8" text-anchor="end" fill="#222" stroke="#222" stroke-width="0.12" >24 h</text>
<text x="0" y="0" transform="translate(414.4,352.8) scale(1,1.1)" font-size="8" text-anchor="end" fill="#222" stroke="#222" stroke-width="0.12" >12 h</text>
<path d="M15.00,232.50 L16.30,231.96 L17.60,232.93 L18.90,232.79 L20.20,232.05 L21.50,232.36 L22.80,232.27 L24.10,232.53 L25.00,232.30 L25.40,232.72 L26.70,231.82 L28.00,231.79 L29.30,232.99 L30.60,232.49 L31.90,233.01 L33.20,232.01 L34.50,232.70 L35.00,232.80 L35.80,233.09 L37.10,232.36 L38.40,233.32 L39.70,233.22 L41.00,231.96 L42.30,231.92 L43.60,232.60 L44.90,233.12 L45.00,232.50 L46.20,232.30 L47.50,232.03 L48.80,232.28 L50.10,231.69 L51.40,231.92 L52.70,232.18 L54.00,232.22 L55.00,232.20 L55.30,231.74 L56.60,231.34 L57.90,230.94 L58.00,231.30 L59.20,231.53 L60.50,231.61 L61.80,231.55 L63.10,233.01 L64.40,232.93 L65.00,233.00 L65.70,233.26 L67.00,232.72 L68.30,233.95 L69.60,233.87 L70.90,232.94 L72.20,233.34 L73.50,233.99 L74.80,234.08 L75.00,233.80 L76.10,234.46 L77.40,233.79 L78.70,234.41 L80.00,234.00 L81.30,234.48 L82.60,234.21 L83.90,234.85 L85.20,235.51 L86.50,235.70 L87.80,235.47 L88.00,235.50 L89.10,236.27 L90.40,236.26 L91.70,237.32 L93.00,238.86 L93.60,238.80 L94.30,239.22 L95.60,239.89 L96.90,241.42 L98.20,242.64 L98.90,242.90 L99.50,243.74 L100.80,244.62 L100.90,244.90 L102.10,256.15 L102.90,263.80 L103.40,265.35 L104.70,269.73 L105.50,271.80 L106.00,267.25 L107.30,255.15 L107.90,249.80 L108.60,248.94 L109.90,246.72 L110.30,246.90 L111.20,251.83 L111.90,256.80 L112.50,260.08 L113.80,266.98 L114.30,268.80 L115.10,261.33 L116.30,249.80 L116.40,249.46 L117.70,246.59 L118.80,244.90 L119.00,244.95 L120.30,245.95 L121.60,245.98 L122.80,245.90 L122.90,245.86 L124.20,245.00 L125.50,242.83 L126.80,241.92 L127.80,240.90 L128.10,242.28 L129.40,245.01 L129.80,245.90 L130.70,248.43 L132.00,251.90 L132.20,252.80 L133.30,252.44 L134.60,252.52 L134.80,251.80 L135.90,248.71 L137.20,246.97 L138.50,244.18 L139.80,240.90 L141.10,244.04 L141.80,244.90 L142.40,248.05 L143.70,253.80 L145.00,249.10 L145.70,245.90 L146.30,248.89 L147.30,253.80 L147.60,258.20 L148.90,276.72 L149.10,279.70 L150.20,269.13 L151.30,259.80 L151.50,258.28 L152.80,244.63 L153.00,242.50 L154.10,240.69 L155.40,239.47 L156.00,238.70 L156.70,238.20 L158.00,237.14 L158.20,237.20 L159.30,237.38 L160.40,238.00 L160.60,237.87 L161.90,236.77 L162.00,236.50 L163.20,236.22 L164.20,235.70 L164.50,236.20 L165.00,237.20 L165.80,234.88 L166.40,234.30 L167.10,233.46 L168.40,232.54 L168.70,232.80 L169.70,231.85 L170.10,231.30 L171.00,231.33 L171.60,230.50 L172.30,230.59 L173.10,229.80 L173.60,233.03 L173.90,234.30 L174.90,246.67 L175.20,249.80 L176.20,253.83 L176.80,256.80 L177.50,254.56 L178.60,249.80 L178.80,251.70 L180.10,261.67 L181.40,272.36 L181.60,274.70 L182.70,257.14 L183.60,244.00 L184.00,244.09 L185.30,242.49 L185.80,242.50 L186.60,240.73 L187.30,240.20 L187.90,238.87 L189.10,235.70 L189.20,235.45 L190.50,234.58 L191.00,235.00 L191.80,235.32 L192.50,236.50 L193.10,234.46 L194.00,231.30 L194.40,230.04 L195.50,228.30 L195.70,227.58 L197.00,225.30 L198.30,222.39 L198.50,221.60 L199.60,224.25 L200.00,225.30 L200.90,226.85 L201.50,228.30 L202.20,232.80 L203.00,231.30 L203.50,231.56 L204.00,231.90" fill="none" stroke="#2a2a9a" stroke-width="1.4" stroke-linejoin="round" />
<path d="M15.00,257.40 L16.30,258.01 L17.60,257.96 L18.90,256.68 L20.20,256.69 L21.50,257.71 L22.80,257.54 L23.00,257.20 L24.10,258.23 L25.40,258.65 L26.70,260.00 L28.00,260.93 L29.00,261.50 L29.30,261.19 L30.60,258.78 L31.50,258.00 L31.90,258.38 L33.20,259.89 L34.00,261.00 L34.50,260.85 L35.80,260.04 L36.50,258.70 L37.10,259.36 L38.40,258.85 L39.70,258.78 L41.00,258.59 L42.30,258.33 L43.60,258.38 L44.90,259.05 L46.20,258.91 L47.50,259.06 L48.80,259.84 L49.00,259.30 L50.10,259.48 L51.40,259.69 L52.70,259.40 L54.00,259.27 L55.30,259.85 L56.60,259.75 L57.90,260.44 L59.20,261.29 L60.50,261.00 L61.80,260.48 L63.10,261.64 L64.00,261.20 L64.40,261.66 L65.70,261.70 L67.00,262.07 L68.30,262.00 L69.60,262.17 L70.90,261.69 L72.20,262.69 L73.50,262.80 L74.80,261.81 L76.00,262.40 L76.10,262.74 L77.40,262.42 L78.70,261.81 L80.00,261.64 L81.30,261.33 L82.00,261.20 L82.60,262.35 L83.90,262.96 L85.20,264.62 L86.00,264.90 L86.50,265.07 L87.80,266.77 L89.10,267.75 L90.40,268.10 L91.00,268.60 L91.70,268.93 L93.00,269.86 L94.30,270.01 L95.60,270.11 L96.90,270.18 L97.90,270.90 L98.20,271.33 L99.50,274.78 L100.80,276.96 L101.90,279.90 L102.10,281.69 L103.40,288.70 L104.70,297.51 L105.50,301.80 L106.00,296.84 L107.30,285.55 L108.60,273.00 L108.90,269.90 L109.90,273.24 L111.20,277.59 L111.90,279.90 L112.50,283.09 L113.80,289.44 L114.30,291.80 L115.10,287.26 L116.40,280.16 L116.90,277.90 L117.70,277.26 L119.00,276.79 L120.30,275.30 L121.60,273.47 L121.80,273.90 L122.90,273.88 L124.20,273.19 L125.50,272.89 L126.80,271.33 L128.10,271.54 L128.80,270.90 L129.40,272.68 L130.70,278.71 L132.00,283.38 L132.80,286.90 L133.30,285.52 L134.60,283.83 L135.90,280.15 L137.20,278.13 L138.50,276.00 L139.80,272.90 L141.10,275.68 L142.40,278.77 L142.70,279.90 L143.70,278.77 L145.00,275.96 L145.70,274.90 L146.30,280.48 L147.60,290.95 L148.90,302.85 L149.10,304.80 L150.20,290.59 L150.70,284.80 L151.50,284.52 L152.80,282.85 L153.00,283.30 L154.10,283.09 L155.40,280.80 L156.00,281.00 L156.70,280.99 L158.00,279.40 L159.00,279.60 L159.30,279.02 L160.60,278.77 L161.90,277.30 L163.20,272.92 L163.40,272.80 L164.50,266.93 L164.90,265.40 L165.80,264.18 L167.10,261.61 L167.20,261.60 L168.40,259.76 L169.40,259.40 L169.70,259.72 L171.00,256.96 L171.20,257.20 L172.30,257.93 L172.40,258.70 L173.60,259.04 L173.90,259.40 L174.90,266.56 L175.40,269.90 L176.20,271.41 L176.90,272.10 L177.50,270.36 L178.40,269.10 L178.80,271.46 L179.90,278.80 L180.10,280.27 L181.30,293.70 L181.40,292.63 L182.70,280.17 L182.80,278.80 L184.00,268.42 L184.30,265.40 L185.30,269.90 L185.80,271.30 L186.60,276.19 L187.00,278.10 L187.90,273.69 L188.50,269.90 L189.20,266.37 L189.60,263.90 L190.50,262.92 L191.80,261.60 L193.10,257.26 L194.00,254.90 L194.40,254.74 L195.70,253.02 L196.30,252.70 L197.00,250.01 L198.30,246.54 L198.50,246.00 L199.60,248.72 L200.00,249.00 L200.90,244.88 L201.50,243.00 L202.20,234.02 L202.50,230.00 L203.50,229.85 L204.00,230.00" fill="none" stroke="#26a050" stroke-width="1.4" stroke-linejoin="round" />
<path d="M15.00,298.70 L16.30,298.39 L17.60,298.87 L18.90,298.67 L20.20,299.05 L21.50,299.14 L22.80,298.40 L24.10,298.38 L25.40,299.59 L26.70,298.83 L28.00,298.85 L29.30,299.97 L30.00,299.30 L30.60,299.29 L31.90,299.86 L33.20,299.42 L34.50,299.70 L35.80,299.08 L37.10,299.82 L38.40,300.21 L39.70,299.79 L41.00,300.15 L42.30,300.11 L43.60,299.32 L44.90,300.36 L45.00,300.00 L46.20,300.07 L47.50,299.61 L48.80,299.17 L50.10,300.27 L51.40,299.66 L52.70,299.95 L54.00,300.11 L55.30,299.82 L56.60,300.05 L57.90,299.25 L59.20,299.76 L60.00,299.30 L60.50,299.21 L61.80,299.87 L63.10,299.77 L64.40,298.65 L65.70,298.68 L67.00,298.76 L68.30,299.79 L69.60,299.02 L70.90,299.26 L72.20,298.78 L73.50,299.04 L74.80,298.84 L75.00,299.00 L76.10,298.57 L77.40,298.64 L78.70,298.38 L80.00,298.57 L81.30,297.99 L82.60,298.08 L83.90,297.72 L85.00,297.00 L85.20,297.51 L86.50,295.94 L87.80,294.11 L89.10,293.96 L89.40,293.20 L90.40,295.50 L91.70,297.57 L92.00,297.50 L93.00,298.39 L94.30,299.63 L95.60,299.97 L96.90,301.87 L98.20,302.55 L99.50,303.18 L99.90,303.80 L100.80,304.99 L102.10,308.70 L102.90,309.80 L103.40,314.56 L104.70,323.90 L105.50,331.00 L106.00,328.02 L107.30,318.63 L108.60,309.43 L109.50,303.80 L109.90,304.18 L111.20,307.01 L111.90,307.80 L112.50,311.80 L113.80,318.17 L114.30,321.70 L115.10,318.00 L116.40,310.92 L117.70,305.59 L117.80,304.80 L119.00,304.41 L120.30,305.02 L121.60,305.00 L122.90,304.17 L124.20,304.70 L125.50,303.57 L125.80,303.80 L126.80,305.19 L128.10,308.51 L129.40,310.29 L130.70,313.11 L132.00,315.98 L132.80,317.70 L133.30,317.00 L134.60,314.16 L135.90,311.79 L137.20,310.73 L138.50,307.75 L139.80,305.80 L141.10,310.41 L142.40,314.29 L143.70,317.70 L145.00,313.24 L146.30,309.06 L146.70,307.80 L147.60,316.90 L148.90,330.17 L149.30,334.00 L150.20,323.93 L151.10,313.60 L151.50,313.15 L152.80,311.52 L154.10,310.25 L154.50,309.10 L155.40,308.65 L156.70,307.88 L158.00,307.62 L159.00,306.80 L159.30,306.21 L160.60,305.32 L161.90,305.29 L163.20,303.68 L163.40,303.50 L164.50,302.20 L165.80,299.83 L167.10,298.78 L167.90,297.90 L168.40,297.69 L169.70,296.06 L171.00,296.06 L171.30,295.70 L172.30,296.89 L173.50,297.90 L173.60,297.79 L174.90,305.21 L175.70,309.10 L176.20,309.74 L177.30,311.30 L177.50,311.04 L178.60,308.00 L178.80,309.70 L180.10,322.57 L181.30,333.70 L181.40,333.06 L182.70,319.40 L183.60,311.30 L184.00,310.28 L185.30,309.85 L185.80,309.10 L186.60,314.62 L186.90,315.80 L187.90,311.36 L189.10,306.80 L189.20,306.54 L190.50,304.17 L191.80,301.23 L192.50,300.10 L193.10,298.71 L194.40,296.04 L194.70,295.70 L195.70,294.52 L197.00,293.40 L198.30,290.22 L199.20,287.80 L199.60,288.03 L200.90,289.80 L201.00,290.10 L202.20,287.11 L202.60,285.60 L203.50,285.19 L204.00,286.00" fill="none" stroke="#e02a2a" stroke-width="1.4" stroke-linejoin="round" />
<path d="M15.00,333.00 L16.30,332.59 L17.60,332.36 L18.90,332.72 L20.20,332.34 L21.50,332.18 L22.80,332.60 L24.10,333.28 L25.40,333.07 L26.70,332.98 L28.00,332.18 L29.30,332.57 L30.00,332.50 L30.60,332.22 L31.90,332.13 L33.20,332.10 L34.50,332.31 L35.80,333.37 L37.10,333.29 L38.40,333.32 L39.70,333.37 L41.00,332.58 L42.30,332.81 L43.60,333.31 L44.90,333.52 L45.00,333.20 L46.20,333.62 L47.50,333.58 L48.80,332.39 L50.10,333.04 L51.40,333.06 L52.70,332.75 L54.00,332.21 L55.30,332.55 L56.60,331.93 L57.90,333.03 L59.20,332.86 L60.00,332.30 L60.50,332.37 L61.80,332.04 L63.10,332.91 L64.40,332.46 L65.70,332.91 L67.00,332.88 L68.30,332.42 L69.60,332.31 L70.90,332.58 L72.20,332.37 L73.50,332.01 L74.80,332.22 L75.00,332.50 L76.10,332.83 L77.40,331.62 L78.70,331.49 L80.00,332.18 L81.30,331.56 L82.60,331.79 L83.90,331.57 L85.00,331.50 L85.20,331.13 L86.50,331.11 L87.80,329.04 L89.10,328.40 L89.40,328.30 L90.40,328.63 L91.70,330.21 L93.00,331.00 L94.30,331.96 L95.60,333.35 L96.90,335.17 L97.90,335.80 L98.20,336.00 L99.50,338.28 L100.80,340.72 L101.90,341.80 L102.10,342.63 L103.40,351.61 L103.90,355.70 L104.70,360.82 L105.50,366.70 L106.00,360.84 L107.30,344.44 L107.90,336.80 L108.60,336.67 L109.90,337.23 L110.90,337.80 L111.20,338.75 L112.50,345.22 L113.80,350.72 L114.30,353.70 L115.10,349.08 L116.40,341.41 L116.90,337.80 L117.70,338.14 L119.00,337.36 L120.30,337.20 L121.60,335.40 L122.90,335.30 L124.20,335.77 L125.50,335.03 L126.80,334.04 L127.80,333.80 L128.10,335.38 L129.40,339.06 L130.70,343.47 L132.00,346.87 L132.20,347.80 L133.30,345.63 L134.60,343.93 L135.90,341.45 L137.20,339.74 L138.50,338.50 L139.80,335.80 L141.10,340.76 L142.40,345.51 L143.30,349.80 L143.70,347.56 L145.00,342.54 L146.30,337.80 L147.60,351.62 L148.90,364.44 L149.10,366.70 L150.20,351.94 L151.10,340.40 L151.50,339.31 L152.80,338.82 L154.10,336.32 L154.50,335.90 L155.40,334.83 L156.70,333.67 L158.00,332.71 L159.00,332.60 L159.30,331.93 L160.60,331.73 L161.90,330.09 L162.30,330.30 L163.20,328.78 L164.50,328.15 L165.70,327.00 L165.80,326.58 L167.10,326.72 L168.40,324.59 L169.00,324.70 L169.70,324.74 L171.00,325.08 L172.30,324.57 L172.40,324.70 L173.60,327.65 L174.20,328.10 L174.90,335.91 L175.70,344.90 L176.20,343.82 L177.30,342.60 L177.50,341.99 L178.80,338.28 L179.10,338.20 L180.10,348.23 L181.30,360.50 L181.40,359.23 L182.70,348.14 L183.60,339.30 L184.00,338.96 L185.30,335.90 L186.60,343.21 L186.90,344.90 L187.90,339.65 L189.10,334.80 L189.20,334.36 L190.50,333.08 L191.80,331.77 L192.50,331.50 L193.10,330.72 L194.40,330.73 L195.70,328.83 L195.90,329.20 L197.00,324.12 L198.10,320.30 L198.30,321.20 L199.60,322.64 L200.30,323.60 L200.90,322.60 L201.90,319.10 L202.20,319.35 L203.50,321.71 L203.70,321.40 L204.00,321.00" fill="none" stroke="#111111" stroke-width="1.4" stroke-linejoin="round" />
<rect x="15" y="218.5" width="189.5" height="151.0" fill="none" stroke="#444" stroke-width="1"/>
<line x1="15.00" y1="369.5" x2="15.00" y2="372.7" stroke="#444" stroke-width="1"/>
<text x="0" y="0" transform="translate(15.00,384.7) scale(1,1.1)" font-size="9.2" text-anchor="middle" fill="#222" stroke="#222" stroke-width="0.12" >2,500</text>
<line x1="39.83" y1="369.5" x2="39.83" y2="371.3" stroke="#444" stroke-width="1"/>
<line x1="64.65" y1="369.5" x2="64.65" y2="372.7" stroke="#444" stroke-width="1"/>
<text x="0" y="0" transform="translate(64.65,384.7) scale(1,1.1)" font-size="9.2" text-anchor="middle" fill="#222" stroke="#222" stroke-width="0.12" >2,000</text>
<line x1="89.47" y1="369.5" x2="89.47" y2="371.3" stroke="#444" stroke-width="1"/>
<line x1="114.30" y1="369.5" x2="114.30" y2="372.7" stroke="#444" stroke-width="1"/>
<text x="0" y="0" transform="translate(114.30,384.7) scale(1,1.1)" font-size="9.2" text-anchor="middle" fill="#222" stroke="#222" stroke-width="0.12" >1,500</text>
<line x1="139.12" y1="369.5" x2="139.12" y2="371.3" stroke="#444" stroke-width="1"/>
<line x1="163.95" y1="369.5" x2="163.95" y2="372.7" stroke="#444" stroke-width="1"/>
<text x="0" y="0" transform="translate(163.95,384.7) scale(1,1.1)" font-size="9.2" text-anchor="middle" fill="#222" stroke="#222" stroke-width="0.12" >1,000</text>
<line x1="188.78" y1="369.5" x2="188.78" y2="371.3" stroke="#444" stroke-width="1"/>
<text x="0" y="0" transform="translate(66.1,398.9) scale(1,1.1)" font-size="9.8" text-anchor="start" fill="#222" stroke="#222" stroke-width="0.12" >Wavenumber (cm<tspan font-size="6.8" dy="-3.6">−1</tspan><tspan dy="3.6">)</tspan></text>
<text x="0" y="0" font-size="9.7" text-anchor="middle" fill="#222" stroke="#222" stroke-width="0.12" transform="translate(10.3,294.8) rotate(-90) scale(1,1.1)">Transmittance (a.u.)</text>
<text x="0" y="0" transform="translate(30.6,228.4) scale(1,1.1)" font-size="8.1" text-anchor="start" fill="#222" stroke="#222" stroke-width="0.12" >In acid</text>
<text x="0" y="0" transform="translate(30.2,255.0) scale(1,1.1)" font-size="8.1" text-anchor="start" fill="#222" stroke="#222" stroke-width="0.12" >In buffer</text>
<text x="0" y="0" transform="translate(30.2,296.0) scale(1,1.1)" font-size="8.4" text-anchor="start" fill="#222" stroke="#222" stroke-width="0.12" >In water</text>
<text x="0" y="0" transform="translate(28.0,328.4) scale(1,1.1)" font-size="8.3" text-anchor="start" fill="#222" stroke="#222" stroke-width="0.12" >As synthesized</text>
<path d="M677.05,98.28 L667.58,115.80 L657.15,122.60 L651.85,123.72 L646.54,124.85 L641.24,125.98 L635.93,126.78 L630.62,127.50 L625.32,128.22 L620.01,128.94 L614.71,129.66 L609.40,130.38 L604.10,131.10 L598.79,131.78 L593.48,132.43 L588.18,133.09 L582.87,133.74 L577.57,134.40 L572.26,135.05 L566.95,135.71 L561.65,136.36 L556.34,137.00 L551.03,137.65 L545.73,138.29 L540.42,139.09 L535.12,139.93 L529.81,140.78 L524.50,141.77 L519.20,143.04 L513.89,144.31 L508.59,145.58 L503.28,147.76 L497.98,150.12" fill="none" stroke="#dc2626" stroke-width="0.8" stroke-linejoin="round" /><path d="M488.65,167.49 L488.88,165.98 L489.26,164.21 L489.83,162.67 L490.58,161.64 L491.53,160.79 L493.24,159.43 L497.69,157.54 L502.14,155.70 L506.60,153.99 L511.05,152.92 L515.50,151.84 L519.96,150.76 L524.41,149.64 L528.86,148.53 L533.32,147.42 L537.77,146.31 L542.22,145.34 L546.68,144.68 L551.13,144.02 L555.58,143.36 L560.04,142.71 L564.49,142.05 L568.94,141.52 L573.40,140.99 L577.85,140.46 L582.30,139.92 L586.76,139.39 L591.21,138.86 L595.66,138.33 L600.12,137.79 L604.57,137.31 L609.02,136.87 L613.48,136.42 L617.93,135.98 L622.38,135.53 L626.84,135.09 L631.29,134.65 L635.74,134.20 L640.19,133.75 L644.65,133.05 L649.10,132.34 L653.55,131.63 L658.01,130.92 L662.46,128.49 L666.91,125.53 L674.21,111.72" fill="none" stroke="#dc2626" stroke-width="0.8" stroke-linejoin="round" /><circle cx="677.05" cy="98.28" r="1.6" fill="#fff" stroke="#dc2626" stroke-width="1.25"/><circle cx="667.58" cy="115.80" r="1.6" fill="#fff" stroke="#dc2626" stroke-width="1.25"/><circle cx="657.15" cy="122.60" r="1.6" fill="#fff" stroke="#dc2626" stroke-width="1.25"/><circle cx="651.85" cy="123.72" r="1.6" fill="#fff" stroke="#dc2626" stroke-width="1.25"/><circle cx="646.54" cy="124.85" r="1.6" fill="#fff" stroke="#dc2626" stroke-width="1.25"/><circle cx="641.24" cy="125.98" r="1.6" fill="#fff" stroke="#dc2626" stroke-width="1.25"/><circle cx="635.93" cy="126.78" r="1.6" fill="#fff" stroke="#dc2626" stroke-width="1.25"/><circle cx="630.62" cy="127.50" r="1.6" fill="#fff" stroke="#dc2626" stroke-width="1.25"/><circle cx="625.32" cy="128.22" r="1.6" fill="#fff" stroke="#dc2626" stroke-width="1.25"/><circle cx="620.01" cy="128.94" r="1.6" fill="#fff" stroke="#dc2626" stroke-width="1.25"/><circle cx="614.71" cy="129.66" r="1.6" fill="#fff" stroke="#dc2626" stroke-width="1.25"/><circle cx="609.40" cy="130.38" r="1.6" fill="#fff" stroke="#dc2626" stroke-width="1.25"/><circle cx="604.10" cy="131.10" r="1.6" fill="#fff" stroke="#dc2626" stroke-width="1.25"/><circle cx="598.79" cy="131.78" r="1.6" fill="#fff" stroke="#dc2626" stroke-width="1.25"/><circle cx="593.48" cy="132.43" r="1.6" fill="#fff" stroke="#dc2626" stroke-width="1.25"/><circle cx="588.18" cy="133.09" r="1.6" fill="#fff" stroke="#dc2626" stroke-width="1.25"/><circle cx="582.87" cy="133.74" r="1.6" fill="#fff" stroke="#dc2626" stroke-width="1.25"/><circle cx="577.57" cy="134.40" r="1.6" fill="#fff" stroke="#dc2626" stroke-width="1.25"/><circle cx="572.26" cy="135.05" r="1.6" fill="#fff" stroke="#dc2626" stroke-width="1.25"/><circle cx="566.95" cy="135.71" r="1.6" fill="#fff" stroke="#dc2626" stroke-width="1.25"/><circle cx="561.65" cy="136.36" r="1.6" fill="#fff" stroke="#dc2626" stroke-width="1.25"/><circle cx="556.34" cy="137.00" r="1.6" fill="#fff" stroke="#dc2626" stroke-width="1.25"/><circle cx="551.03" cy="137.65" r="1.6" fill="#fff" stroke="#dc2626" stroke-width="1.25"/><circle cx="545.73" cy="138.29" r="1.6" fill="#fff" stroke="#dc2626" stroke-width="1.25"/><circle cx="540.42" cy="139.09" r="1.6" fill="#fff" stroke="#dc2626" stroke-width="1.25"/><circle cx="535.12" cy="139.93" r="1.6" fill="#fff" stroke="#dc2626" stroke-width="1.25"/><circle cx="529.81" cy="140.78" r="1.6" fill="#fff" stroke="#dc2626" stroke-width="1.25"/><circle cx="524.50" cy="141.77" r="1.6" fill="#fff" stroke="#dc2626" stroke-width="1.25"/><circle cx="519.20" cy="143.04" r="1.6" fill="#fff" stroke="#dc2626" stroke-width="1.25"/><circle cx="513.89" cy="144.31" r="1.6" fill="#fff" stroke="#dc2626" stroke-width="1.25"/><circle cx="508.59" cy="145.58" r="1.6" fill="#fff" stroke="#dc2626" stroke-width="1.25"/><circle cx="503.28" cy="147.76" r="1.6" fill="#fff" stroke="#dc2626" stroke-width="1.25"/><circle cx="497.98" cy="150.12" r="1.6" fill="#fff" stroke="#dc2626" stroke-width="1.25"/><circle cx="488.65" cy="167.49" r="1.95" fill="#dc2626"/><circle cx="488.88" cy="165.98" r="1.95" fill="#dc2626"/><circle cx="489.26" cy="164.21" r="1.95" fill="#dc2626"/><circle cx="489.83" cy="162.67" r="1.95" fill="#dc2626"/><circle cx="490.58" cy="161.64" r="1.95" fill="#dc2626"/><circle cx="491.53" cy="160.79" r="1.95" fill="#dc2626"/><circle cx="493.24" cy="159.43" r="1.95" fill="#dc2626"/><circle cx="497.69" cy="157.54" r="1.95" fill="#dc2626"/><circle cx="502.14" cy="155.70" r="1.95" fill="#dc2626"/><circle cx="506.60" cy="153.99" r="1.95" fill="#dc2626"/><circle cx="511.05" cy="152.92" r="1.95" fill="#dc2626"/><circle cx="515.50" cy="151.84" r="1.95" fill="#dc2626"/><circle cx="519.96" cy="150.76" r="1.95" fill="#dc2626"/><circle cx="524.41" cy="149.64" r="1.95" fill="#dc2626"/><circle cx="528.86" cy="148.53" r="1.95" fill="#dc2626"/><circle cx="533.32" cy="147.42" r="1.95" fill="#dc2626"/><circle cx="537.77" cy="146.31" r="1.95" fill="#dc2626"/><circle cx="542.22" cy="145.34" r="1.95" fill="#dc2626"/><circle cx="546.68" cy="144.68" r="1.95" fill="#dc2626"/><circle cx="551.13" cy="144.02" r="1.95" fill="#dc2626"/><circle cx="555.58" cy="143.36" r="1.95" fill="#dc2626"/><circle cx="560.04" cy="142.71" r="1.95" fill="#dc2626"/><circle cx="564.49" cy="142.05" r="1.95" fill="#dc2626"/><circle cx="568.94" cy="141.52" r="1.95" fill="#dc2626"/><circle cx="573.40" cy="140.99" r="1.95" fill="#dc2626"/><circle cx="577.85" cy="140.46" r="1.95" fill="#dc2626"/><circle cx="582.30" cy="139.92" r="1.95" fill="#dc2626"/><circle cx="586.76" cy="139.39" r="1.95" fill="#dc2626"/><circle cx="591.21" cy="138.86" r="1.95" fill="#dc2626"/><circle cx="595.66" cy="138.33" r="1.95" fill="#dc2626"/><circle cx="600.12" cy="137.79" r="1.95" fill="#dc2626"/><circle cx="604.57" cy="137.31" r="1.95" fill="#dc2626"/><circle cx="609.02" cy="136.87" r="1.95" fill="#dc2626"/><circle cx="613.48" cy="136.42" r="1.95" fill="#dc2626"/><circle cx="617.93" cy="135.98" r="1.95" fill="#dc2626"/><circle cx="622.38" cy="135.53" r="1.95" fill="#dc2626"/><circle cx="626.84" cy="135.09" r="1.95" fill="#dc2626"/><circle cx="631.29" cy="134.65" r="1.95" fill="#dc2626"/><circle cx="635.74" cy="134.20" r="1.95" fill="#dc2626"/><circle cx="640.19" cy="133.75" r="1.95" fill="#dc2626"/><circle cx="644.65" cy="133.05" r="1.95" fill="#dc2626"/><circle cx="649.10" cy="132.34" r="1.95" fill="#dc2626"/><circle cx="653.55" cy="131.63" r="1.95" fill="#dc2626"/><circle cx="658.01" cy="130.92" r="1.95" fill="#dc2626"/><circle cx="662.46" cy="128.49" r="1.95" fill="#dc2626"/><circle cx="666.91" cy="125.53" r="1.95" fill="#dc2626"/><circle cx="674.21" cy="111.72" r="1.95" fill="#dc2626"/><path d="M677.05,33.96 L672.50,61.86 L669.47,69.10 L665.02,76.32 L660.57,80.32 L656.11,82.35 L651.66,83.38 L647.21,84.41 L642.75,85.44 L638.30,86.29 L633.85,86.86 L629.39,87.43 L624.94,88.01 L620.49,88.58 L616.03,89.15 L611.58,89.73 L607.13,90.37 L602.67,91.18 L598.22,91.85 L593.77,92.33 L589.31,92.82 L584.86,93.30 L580.41,93.79 L575.95,94.27 L571.50,94.76 L567.05,95.25 L562.59,95.73 L558.14,96.23 L553.69,96.75 L549.23,97.26 L544.78,97.78 L540.33,98.43 L535.88,105.08 L531.42,113.11 L526.97,116.52 L522.52,120.63 L518.06,124.74 L513.61,127.27 L509.16,129.37 L504.70,131.88 L500.25,134.56 L495.80,137.28 L491.34,141.76" fill="none" stroke="#8b4a30" stroke-width="0.8" stroke-linejoin="round" /><path d="M488.65,165.28 L488.88,160.45 L489.26,155.13 L489.83,151.24 L490.58,147.00 L491.53,145.21 L493.24,141.98 L497.69,138.22 L502.14,135.10 L506.60,132.08 L511.05,130.17 L515.50,128.33 L519.96,126.37 L524.41,124.41 L528.86,120.65 L533.32,109.95 L537.77,102.06 L542.22,100.36 L546.68,99.88 L551.13,99.40 L555.58,98.92 L560.04,98.44 L564.49,97.96 L568.94,97.50 L573.40,97.04 L577.85,96.58 L582.30,96.12 L586.76,95.66 L591.21,95.20 L595.66,94.73 L600.12,94.27 L604.57,93.84 L609.02,93.43 L613.48,93.02 L617.93,92.62 L622.38,92.21 L626.84,91.80 L631.29,91.39 L635.74,90.98 L640.19,90.56 L644.65,89.53 L649.10,88.50 L653.55,87.47 L658.01,86.45 L662.46,83.22 L666.91,79.31 L673.07,69.78 L677.05,33.96" fill="none" stroke="#8b4a30" stroke-width="0.8" stroke-linejoin="round" /><circle cx="677.05" cy="33.96" r="1.6" fill="#fff" stroke="#8b4a30" stroke-width="1.25"/><circle cx="672.50" cy="61.86" r="1.6" fill="#fff" stroke="#8b4a30" stroke-width="1.25"/><circle cx="669.47" cy="69.10" r="1.6" fill="#fff" stroke="#8b4a30" stroke-width="1.25"/><circle cx="665.02" cy="76.32" r="1.6" fill="#fff" stroke="#8b4a30" stroke-width="1.25"/><circle cx="660.57" cy="80.32" r="1.6" fill="#fff" stroke="#8b4a30" stroke-width="1.25"/><circle cx="656.11" cy="82.35" r="1.6" fill="#fff" stroke="#8b4a30" stroke-width="1.25"/><circle cx="651.66" cy="83.38" r="1.6" fill="#fff" stroke="#8b4a30" stroke-width="1.25"/><circle cx="647.21" cy="84.41" r="1.6" fill="#fff" stroke="#8b4a30" stroke-width="1.25"/><circle cx="642.75" cy="85.44" r="1.6" fill="#fff" stroke="#8b4a30" stroke-width="1.25"/><circle cx="638.30" cy="86.29" r="1.6" fill="#fff" stroke="#8b4a30" stroke-width="1.25"/><circle cx="633.85" cy="86.86" r="1.6" fill="#fff" stroke="#8b4a30" stroke-width="1.25"/><circle cx="629.39" cy="87.43" r="1.6" fill="#fff" stroke="#8b4a30" stroke-width="1.25"/><circle cx="624.94" cy="88.01" r="1.6" fill="#fff" stroke="#8b4a30" stroke-width="1.25"/><circle cx="620.49" cy="88.58" r="1.6" fill="#fff" stroke="#8b4a30" stroke-width="1.25"/><circle cx="616.03" cy="89.15" r="1.6" fill="#fff" stroke="#8b4a30" stroke-width="1.25"/><circle cx="611.58" cy="89.73" r="1.6" fill="#fff" stroke="#8b4a30" stroke-width="1.25"/><circle cx="607.13" cy="90.37" r="1.6" fill="#fff" stroke="#8b4a30" stroke-width="1.25"/><circle cx="602.67" cy="91.18" r="1.6" fill="#fff" stroke="#8b4a30" stroke-width="1.25"/><circle cx="598.22" cy="91.85" r="1.6" fill="#fff" stroke="#8b4a30" stroke-width="1.25"/><circle cx="593.77" cy="92.33" r="1.6" fill="#fff" stroke="#8b4a30" stroke-width="1.25"/><circle cx="589.31" cy="92.82" r="1.6" fill="#fff" stroke="#8b4a30" stroke-width="1.25"/><circle cx="584.86" cy="93.30" r="1.6" fill="#fff" stroke="#8b4a30" stroke-width="1.25"/><circle cx="580.41" cy="93.79" r="1.6" fill="#fff" stroke="#8b4a30" stroke-width="1.25"/><circle cx="575.95" cy="94.27" r="1.6" fill="#fff" stroke="#8b4a30" stroke-width="1.25"/><circle cx="571.50" cy="94.76" r="1.6" fill="#fff" stroke="#8b4a30" stroke-width="1.25"/><circle cx="567.05" cy="95.25" r="1.6" fill="#fff" stroke="#8b4a30" stroke-width="1.25"/><circle cx="562.59" cy="95.73" r="1.6" fill="#fff" stroke="#8b4a30" stroke-width="1.25"/><circle cx="558.14" cy="96.23" r="1.6" fill="#fff" stroke="#8b4a30" stroke-width="1.25"/><circle cx="553.69" cy="96.75" r="1.6" fill="#fff" stroke="#8b4a30" stroke-width="1.25"/><circle cx="549.23" cy="97.26" r="1.6" fill="#fff" stroke="#8b4a30" stroke-width="1.25"/><circle cx="544.78" cy="97.78" r="1.6" fill="#fff" stroke="#8b4a30" stroke-width="1.25"/><circle cx="540.33" cy="98.43" r="1.6" fill="#fff" stroke="#8b4a30" stroke-width="1.25"/><circle cx="535.88" cy="105.08" r="1.6" fill="#fff" stroke="#8b4a30" stroke-width="1.25"/><circle cx="531.42" cy="113.11" r="1.6" fill="#fff" stroke="#8b4a30" stroke-width="1.25"/><circle cx="526.97" cy="116.52" r="1.6" fill="#fff" stroke="#8b4a30" stroke-width="1.25"/><circle cx="522.52" cy="120.63" r="1.6" fill="#fff" stroke="#8b4a30" stroke-width="1.25"/><circle cx="518.06" cy="124.74" r="1.6" fill="#fff" stroke="#8b4a30" stroke-width="1.25"/><circle cx="513.61" cy="127.27" r="1.6" fill="#fff" stroke="#8b4a30" stroke-width="1.25"/><circle cx="509.16" cy="129.37" r="1.6" fill="#fff" stroke="#8b4a30" stroke-width="1.25"/><circle cx="504.70" cy="131.88" r="1.6" fill="#fff" stroke="#8b4a30" stroke-width="1.25"/><circle cx="500.25" cy="134.56" r="1.6" fill="#fff" stroke="#8b4a30" stroke-width="1.25"/><circle cx="495.80" cy="137.28" r="1.6" fill="#fff" stroke="#8b4a30" stroke-width="1.25"/><circle cx="491.34" cy="141.76" r="1.6" fill="#fff" stroke="#8b4a30" stroke-width="1.25"/><circle cx="488.65" cy="165.28" r="1.95" fill="#8b4a30"/><circle cx="488.88" cy="160.45" r="1.95" fill="#8b4a30"/><circle cx="489.26" cy="155.13" r="1.95" fill="#8b4a30"/><circle cx="489.83" cy="151.24" r="1.95" fill="#8b4a30"/><circle cx="490.58" cy="147.00" r="1.95" fill="#8b4a30"/><circle cx="491.53" cy="145.21" r="1.95" fill="#8b4a30"/><circle cx="493.24" cy="141.98" r="1.95" fill="#8b4a30"/><circle cx="497.69" cy="138.22" r="1.95" fill="#8b4a30"/><circle cx="502.14" cy="135.10" r="1.95" fill="#8b4a30"/><circle cx="506.60" cy="132.08" r="1.95" fill="#8b4a30"/><circle cx="511.05" cy="130.17" r="1.95" fill="#8b4a30"/><circle cx="515.50" cy="128.33" r="1.95" fill="#8b4a30"/><circle cx="519.96" cy="126.37" r="1.95" fill="#8b4a30"/><circle cx="524.41" cy="124.41" r="1.95" fill="#8b4a30"/><circle cx="528.86" cy="120.65" r="1.95" fill="#8b4a30"/><circle cx="533.32" cy="109.95" r="1.95" fill="#8b4a30"/><circle cx="537.77" cy="102.06" r="1.95" fill="#8b4a30"/><circle cx="542.22" cy="100.36" r="1.95" fill="#8b4a30"/><circle cx="546.68" cy="99.88" r="1.95" fill="#8b4a30"/><circle cx="551.13" cy="99.40" r="1.95" fill="#8b4a30"/><circle cx="555.58" cy="98.92" r="1.95" fill="#8b4a30"/><circle cx="560.04" cy="98.44" r="1.95" fill="#8b4a30"/><circle cx="564.49" cy="97.96" r="1.95" fill="#8b4a30"/><circle cx="568.94" cy="97.50" r="1.95" fill="#8b4a30"/><circle cx="573.40" cy="97.04" r="1.95" fill="#8b4a30"/><circle cx="577.85" cy="96.58" r="1.95" fill="#8b4a30"/><circle cx="582.30" cy="96.12" r="1.95" fill="#8b4a30"/><circle cx="586.76" cy="95.66" r="1.95" fill="#8b4a30"/><circle cx="591.21" cy="95.20" r="1.95" fill="#8b4a30"/><circle cx="595.66" cy="94.73" r="1.95" fill="#8b4a30"/><circle cx="600.12" cy="94.27" r="1.95" fill="#8b4a30"/><circle cx="604.57" cy="93.84" r="1.95" fill="#8b4a30"/><circle cx="609.02" cy="93.43" r="1.95" fill="#8b4a30"/><circle cx="613.48" cy="93.02" r="1.95" fill="#8b4a30"/><circle cx="617.93" cy="92.62" r="1.95" fill="#8b4a30"/><circle cx="622.38" cy="92.21" r="1.95" fill="#8b4a30"/><circle cx="626.84" cy="91.80" r="1.95" fill="#8b4a30"/><circle cx="631.29" cy="91.39" r="1.95" fill="#8b4a30"/><circle cx="635.74" cy="90.98" r="1.95" fill="#8b4a30"/><circle cx="640.19" cy="90.56" r="1.95" fill="#8b4a30"/><circle cx="644.65" cy="89.53" r="1.95" fill="#8b4a30"/><circle cx="649.10" cy="88.50" r="1.95" fill="#8b4a30"/><circle cx="653.55" cy="87.47" r="1.95" fill="#8b4a30"/><circle cx="658.01" cy="86.45" r="1.95" fill="#8b4a30"/><circle cx="662.46" cy="83.22" r="1.95" fill="#8b4a30"/><circle cx="666.91" cy="79.31" r="1.95" fill="#8b4a30"/><circle cx="673.07" cy="69.78" r="1.95" fill="#8b4a30"/><circle cx="677.05" cy="33.96" r="1.95" fill="#8b4a30"/><path d="M677.05,17.50 L672.50,40.07 L669.47,56.76 L665.02,63.93 L660.57,67.13 L656.11,68.82 L651.66,69.75 L647.21,70.51 L642.75,71.26 L638.30,71.98 L633.85,72.66 L629.39,73.33 L624.94,74.00 L620.49,74.67 L616.03,75.27 L611.58,75.87 L607.13,76.48 L602.67,77.08 L598.22,77.62 L593.77,78.15 L589.31,78.69 L584.86,79.22 L580.41,79.86 L575.95,80.57 L571.50,81.28 L567.05,81.99 L562.59,82.67 L558.14,83.31 L553.69,83.95 L549.23,84.59 L544.78,85.24 L540.33,86.03 L535.88,90.25 L531.42,100.80 L526.97,111.18 L522.52,114.93 L518.06,117.91 L513.61,120.26 L509.16,122.38 L504.70,125.18 L500.25,128.19 L495.80,131.47 L491.34,138.10" fill="none" stroke="#1c1c8c" stroke-width="0.8" stroke-linejoin="round" /><path d="M488.65,163.06 L488.88,154.91 L489.26,149.88 L489.83,145.25 L490.58,141.62 L491.53,139.36 L493.24,136.41 L497.69,131.09 L502.14,128.29 L506.60,125.67 L511.05,123.38 L515.50,121.18 L519.96,118.84 L524.41,116.43 L528.86,112.60 L533.32,98.36 L537.77,89.98 L542.22,89.09 L546.68,88.28 L551.13,87.64 L555.58,87.00 L560.04,86.36 L564.49,85.73 L568.94,85.12 L573.40,84.52 L577.85,83.92 L582.30,83.31 L586.76,82.71 L591.21,82.11 L595.66,81.50 L600.12,80.90 L604.57,80.41 L609.02,80.02 L613.48,79.63 L617.93,79.24 L622.38,78.82 L626.84,78.32 L631.29,77.83 L635.74,77.33 L640.19,76.82 L644.65,75.80 L649.10,74.78 L653.55,73.76 L658.01,72.23 L662.46,70.39 L666.91,67.43 L673.07,54.40 L677.05,17.50" fill="none" stroke="#1c1c8c" stroke-width="0.8" stroke-linejoin="round" /><circle cx="677.05" cy="17.50" r="1.6" fill="#fff" stroke="#1c1c8c" stroke-width="1.25"/><circle cx="672.50" cy="40.07" r="1.6" fill="#fff" stroke="#1c1c8c" stroke-width="1.25"/><circle cx="669.47" cy="56.76" r="1.6" fill="#fff" stroke="#1c1c8c" stroke-width="1.25"/><circle cx="665.02" cy="63.93" r="1.6" fill="#fff" stroke="#1c1c8c" stroke-width="1.25"/><circle cx="660.57" cy="67.13" r="1.6" fill="#fff" stroke="#1c1c8c" stroke-width="1.25"/><circle cx="656.11" cy="68.82" r="1.6" fill="#fff" stroke="#1c1c8c" stroke-width="1.25"/><circle cx="651.66" cy="69.75" r="1.6" fill="#fff" stroke="#1c1c8c" stroke-width="1.25"/><circle cx="647.21" cy="70.51" r="1.6" fill="#fff" stroke="#1c1c8c" stroke-width="1.25"/><circle cx="642.75" cy="71.26" r="1.6" fill="#fff" stroke="#1c1c8c" stroke-width="1.25"/><circle cx="638.30" cy="71.98" r="1.6" fill="#fff" stroke="#1c1c8c" stroke-width="1.25"/><circle cx="633.85" cy="72.66" r="1.6" fill="#fff" stroke="#1c1c8c" stroke-width="1.25"/><circle cx="629.39" cy="73.33" r="1.6" fill="#fff" stroke="#1c1c8c" stroke-width="1.25"/><circle cx="624.94" cy="74.00" r="1.6" fill="#fff" stroke="#1c1c8c" stroke-width="1.25"/><circle cx="620.49" cy="74.67" r="1.6" fill="#fff" stroke="#1c1c8c" stroke-width="1.25"/><circle cx="616.03" cy="75.27" r="1.6" fill="#fff" stroke="#1c1c8c" stroke-width="1.25"/><circle cx="611.58" cy="75.87" r="1.6" fill="#fff" stroke="#1c1c8c" stroke-width="1.25"/><circle cx="607.13" cy="76.48" r="1.6" fill="#fff" stroke="#1c1c8c" stroke-width="1.25"/><circle cx="602.67" cy="77.08" r="1.6" fill="#fff" stroke="#1c1c8c" stroke-width="1.25"/><circle cx="598.22" cy="77.62" r="1.6" fill="#fff" stroke="#1c1c8c" stroke-width="1.25"/><circle cx="593.77" cy="78.15" r="1.6" fill="#fff" stroke="#1c1c8c" stroke-width="1.25"/><circle cx="589.31" cy="78.69" r="1.6" fill="#fff" stroke="#1c1c8c" stroke-width="1.25"/><circle cx="584.86" cy="79.22" r="1.6" fill="#fff" stroke="#1c1c8c" stroke-width="1.25"/><circle cx="580.41" cy="79.86" r="1.6" fill="#fff" stroke="#1c1c8c" stroke-width="1.25"/><circle cx="575.95" cy="80.57" r="1.6" fill="#fff" stroke="#1c1c8c" stroke-width="1.25"/><circle cx="571.50" cy="81.28" r="1.6" fill="#fff" stroke="#1c1c8c" stroke-width="1.25"/><circle cx="567.05" cy="81.99" r="1.6" fill="#fff" stroke="#1c1c8c" stroke-width="1.25"/><circle cx="562.59" cy="82.67" r="1.6" fill="#fff" stroke="#1c1c8c" stroke-width="1.25"/><circle cx="558.14" cy="83.31" r="1.6" fill="#fff" stroke="#1c1c8c" stroke-width="1.25"/><circle cx="553.69" cy="83.95" r="1.6" fill="#fff" stroke="#1c1c8c" stroke-width="1.25"/><circle cx="549.23" cy="84.59" r="1.6" fill="#fff" stroke="#1c1c8c" stroke-width="1.25"/><circle cx="544.78" cy="85.24" r="1.6" fill="#fff" stroke="#1c1c8c" stroke-width="1.25"/><circle cx="540.33" cy="86.03" r="1.6" fill="#fff" stroke="#1c1c8c" stroke-width="1.25"/><circle cx="535.88" cy="90.25" r="1.6" fill="#fff" stroke="#1c1c8c" stroke-width="1.25"/><circle cx="531.42" cy="100.80" r="1.6" fill="#fff" stroke="#1c1c8c" stroke-width="1.25"/><circle cx="526.97" cy="111.18" r="1.6" fill="#fff" stroke="#1c1c8c" stroke-width="1.25"/><circle cx="522.52" cy="114.93" r="1.6" fill="#fff" stroke="#1c1c8c" stroke-width="1.25"/><circle cx="518.06" cy="117.91" r="1.6" fill="#fff" stroke="#1c1c8c" stroke-width="1.25"/><circle cx="513.61" cy="120.26" r="1.6" fill="#fff" stroke="#1c1c8c" stroke-width="1.25"/><circle cx="509.16" cy="122.38" r="1.6" fill="#fff" stroke="#1c1c8c" stroke-width="1.25"/><circle cx="504.70" cy="125.18" r="1.6" fill="#fff" stroke="#1c1c8c" stroke-width="1.25"/><circle cx="500.25" cy="128.19" r="1.6" fill="#fff" stroke="#1c1c8c" stroke-width="1.25"/><circle cx="495.80" cy="131.47" r="1.6" fill="#fff" stroke="#1c1c8c" stroke-width="1.25"/><circle cx="491.34" cy="138.10" r="1.6" fill="#fff" stroke="#1c1c8c" stroke-width="1.25"/><circle cx="488.65" cy="163.06" r="1.95" fill="#1c1c8c"/><circle cx="488.88" cy="154.91" r="1.95" fill="#1c1c8c"/><circle cx="489.26" cy="149.88" r="1.95" fill="#1c1c8c"/><circle cx="489.83" cy="145.25" r="1.95" fill="#1c1c8c"/><circle cx="490.58" cy="141.62" r="1.95" fill="#1c1c8c"/><circle cx="491.53" cy="139.36" r="1.95" fill="#1c1c8c"/><circle cx="493.24" cy="136.41" r="1.95" fill="#1c1c8c"/><circle cx="497.69" cy="131.09" r="1.95" fill="#1c1c8c"/><circle cx="502.14" cy="128.29" r="1.95" fill="#1c1c8c"/><circle cx="506.60" cy="125.67" r="1.95" fill="#1c1c8c"/><circle cx="511.05" cy="123.38" r="1.95" fill="#1c1c8c"/><circle cx="515.50" cy="121.18" r="1.95" fill="#1c1c8c"/><circle cx="519.96" cy="118.84" r="1.95" fill="#1c1c8c"/><circle cx="524.41" cy="116.43" r="1.95" fill="#1c1c8c"/><circle cx="528.86" cy="112.60" r="1.95" fill="#1c1c8c"/><circle cx="533.32" cy="98.36" r="1.95" fill="#1c1c8c"/><circle cx="537.77" cy="89.98" r="1.95" fill="#1c1c8c"/><circle cx="542.22" cy="89.09" r="1.95" fill="#1c1c8c"/><circle cx="546.68" cy="88.28" r="1.95" fill="#1c1c8c"/><circle cx="551.13" cy="87.64" r="1.95" fill="#1c1c8c"/><circle cx="555.58" cy="87.00" r="1.95" fill="#1c1c8c"/><circle cx="560.04" cy="86.36" r="1.95" fill="#1c1c8c"/><circle cx="564.49" cy="85.73" r="1.95" fill="#1c1c8c"/><circle cx="568.94" cy="85.12" r="1.95" fill="#1c1c8c"/><circle cx="573.40" cy="84.52" r="1.95" fill="#1c1c8c"/><circle cx="577.85" cy="83.92" r="1.95" fill="#1c1c8c"/><circle cx="582.30" cy="83.31" r="1.95" fill="#1c1c8c"/><circle cx="586.76" cy="82.71" r="1.95" fill="#1c1c8c"/><circle cx="591.21" cy="82.11" r="1.95" fill="#1c1c8c"/><circle cx="595.66" cy="81.50" r="1.95" fill="#1c1c8c"/><circle cx="600.12" cy="80.90" r="1.95" fill="#1c1c8c"/><circle cx="604.57" cy="80.41" r="1.95" fill="#1c1c8c"/><circle cx="609.02" cy="80.02" r="1.95" fill="#1c1c8c"/><circle cx="613.48" cy="79.63" r="1.95" fill="#1c1c8c"/><circle cx="617.93" cy="79.24" r="1.95" fill="#1c1c8c"/><circle cx="622.38" cy="78.82" r="1.95" fill="#1c1c8c"/><circle cx="626.84" cy="78.32" r="1.95" fill="#1c1c8c"/><circle cx="631.29" cy="77.83" r="1.95" fill="#1c1c8c"/><circle cx="635.74" cy="77.33" r="1.95" fill="#1c1c8c"/><circle cx="640.19" cy="76.82" r="1.95" fill="#1c1c8c"/><circle cx="644.65" cy="75.80" r="1.95" fill="#1c1c8c"/><circle cx="649.10" cy="74.78" r="1.95" fill="#1c1c8c"/><circle cx="653.55" cy="73.76" r="1.95" fill="#1c1c8c"/><circle cx="658.01" cy="72.23" r="1.95" fill="#1c1c8c"/><circle cx="662.46" cy="70.39" r="1.95" fill="#1c1c8c"/><circle cx="666.91" cy="67.43" r="1.95" fill="#1c1c8c"/><circle cx="673.07" cy="54.40" r="1.95" fill="#1c1c8c"/><circle cx="677.05" cy="17.50" r="1.95" fill="#1c1c8c"/>
<rect x="488.5" y="17.5" width="189.5" height="151.0" fill="none" stroke="#555" stroke-width="1.1"/>
<line x1="488.50" y1="168.5" x2="488.50" y2="171.7" stroke="#555" stroke-width="1"/>
<text x="0" y="0" transform="translate(488.50,183.3) scale(1,1.1)" font-size="9.3" text-anchor="middle" fill="#222" stroke="#222" stroke-width="0.12" >0.0</text>
<line x1="507.45" y1="168.5" x2="507.45" y2="170.3" stroke="#555" stroke-width="1"/>
<line x1="526.40" y1="168.5" x2="526.40" y2="171.7" stroke="#555" stroke-width="1"/>
<text x="0" y="0" transform="translate(526.40,183.3) scale(1,1.1)" font-size="9.3" text-anchor="middle" fill="#222" stroke="#222" stroke-width="0.12" >0.2</text>
<line x1="545.35" y1="168.5" x2="545.35" y2="170.3" stroke="#555" stroke-width="1"/>
<line x1="564.30" y1="168.5" x2="564.30" y2="171.7" stroke="#555" stroke-width="1"/>
<text x="0" y="0" transform="translate(564.30,183.3) scale(1,1.1)" font-size="9.3" text-anchor="middle" fill="#222" stroke="#222" stroke-width="0.12" >0.4</text>
<line x1="583.25" y1="168.5" x2="583.25" y2="170.3" stroke="#555" stroke-width="1"/>
<line x1="602.20" y1="168.5" x2="602.20" y2="171.7" stroke="#555" stroke-width="1"/>
<text x="0" y="0" transform="translate(602.20,183.3) scale(1,1.1)" font-size="9.3" text-anchor="middle" fill="#222" stroke="#222" stroke-width="0.12" >0.6</text>
<line x1="621.15" y1="168.5" x2="621.15" y2="170.3" stroke="#555" stroke-width="1"/>
<line x1="640.10" y1="168.5" x2="640.10" y2="171.7" stroke="#555" stroke-width="1"/>
<text x="0" y="0" transform="translate(640.10,183.3) scale(1,1.1)" font-size="9.3" text-anchor="middle" fill="#222" stroke="#222" stroke-width="0.12" >0.8</text>
<line x1="659.05" y1="168.5" x2="659.05" y2="170.3" stroke="#555" stroke-width="1"/>
<line x1="678.00" y1="168.5" x2="678.00" y2="171.7" stroke="#555" stroke-width="1"/>
<text x="0" y="0" transform="translate(678.00,183.3) scale(1,1.1)" font-size="9.3" text-anchor="middle" fill="#222" stroke="#222" stroke-width="0.12" >1.0</text>
<line x1="488.5" y1="168.50" x2="485.5" y2="168.50" stroke="#555" stroke-width="1"/>
<text x="0" y="0" transform="translate(482,172.90) scale(1,1.1)" font-size="9.2" text-anchor="end" fill="#222" stroke="#222" stroke-width="0.12" >0</text>
<line x1="488.5" y1="153.40" x2="486.7" y2="153.40" stroke="#555" stroke-width="1"/>
<line x1="488.5" y1="138.30" x2="485.5" y2="138.30" stroke="#555" stroke-width="1"/>
<text x="0" y="0" transform="translate(482,142.70) scale(1,1.1)" font-size="9.2" text-anchor="end" fill="#222" stroke="#222" stroke-width="0.12" >200</text>
<line x1="488.5" y1="123.20" x2="486.7" y2="123.20" stroke="#555" stroke-width="1"/>
<line x1="488.5" y1="108.10" x2="485.5" y2="108.10" stroke="#555" stroke-width="1"/>
<text x="0" y="0" transform="translate(482,112.50) scale(1,1.1)" font-size="9.2" text-anchor="end" fill="#222" stroke="#222" stroke-width="0.12" >400</text>
<line x1="488.5" y1="93.00" x2="486.7" y2="93.00" stroke="#555" stroke-width="1"/>
<line x1="488.5" y1="77.90" x2="485.5" y2="77.90" stroke="#555" stroke-width="1"/>
<text x="0" y="0" transform="translate(482,82.30) scale(1,1.1)" font-size="9.2" text-anchor="end" fill="#222" stroke="#222" stroke-width="0.12" >600</text>
<line x1="488.5" y1="62.80" x2="486.7" y2="62.80" stroke="#555" stroke-width="1"/>
<line x1="488.5" y1="47.70" x2="485.5" y2="47.70" stroke="#555" stroke-width="1"/>
<text x="0" y="0" transform="translate(482,52.10) scale(1,1.1)" font-size="9.2" text-anchor="end" fill="#222" stroke="#222" stroke-width="0.12" >800</text>
<line x1="488.5" y1="32.60" x2="486.7" y2="32.60" stroke="#555" stroke-width="1"/>
<line x1="488.5" y1="17.50" x2="485.5" y2="17.50" stroke="#555" stroke-width="1"/>
<text x="0" y="0" transform="translate(482,21.90) scale(1,1.1)" font-size="9.2" text-anchor="end" fill="#222" stroke="#222" stroke-width="0.12" >1,000</text>
<text x="0" y="0" transform="translate(582.5,198.8) scale(1,1.1)" font-size="9.6" text-anchor="middle" fill="#222" stroke="#222" stroke-width="0.12" >Pressure (<tspan font-style="italic">P</tspan>/<tspan font-style="italic">P</tspan><tspan font-size="6.5" dy="2">0</tspan><tspan dy="-2">)</tspan></text>
<text x="0" y="0" font-size="9.9" text-anchor="middle" fill="#222" stroke="#222" stroke-width="0.12" transform="translate(456.5,93.8) rotate(-90) scale(1,1.1)">N<tspan font-size="6.9" dy="2">2</tspan><tspan dy="-2"> uptake (cc g</tspan><tspan font-size="6.9" dy="-3.7">−1</tspan><tspan dy="3.7">)</tspan></text>
<line x1="501" y1="30.5" x2="520.4" y2="30.5" stroke="#1c1c8c" stroke-width="1.3"/>
<circle cx="510.8" cy="30.5" r="2.1" fill="#1c1c8c"/>
<text x="0" y="0" transform="translate(525.6,33.5) scale(1,1.1)" font-size="8.27" text-anchor="start" fill="#222" stroke="#222" stroke-width="0.12" >As synthesized</text>
<line x1="501" y1="41.4" x2="520.4" y2="41.4" stroke="#8b4a30" stroke-width="1.3"/>
<circle cx="510.8" cy="41.4" r="2.1" fill="#8b4a30"/>
<text x="0" y="0" transform="translate(525.6,44.4) scale(1,1.1)" font-size="8.27" text-anchor="start" fill="#222" stroke="#222" stroke-width="0.12" >In water for 7 days</text>
<line x1="501" y1="52.0" x2="520.4" y2="52.0" stroke="#dc2626" stroke-width="1.3"/>
<circle cx="510.8" cy="52.0" r="2.1" fill="#dc2626"/>
<text x="0" y="0" transform="translate(525.6,55.0) scale(1,1.1)" font-size="8.27" text-anchor="start" fill="#222" stroke="#222" stroke-width="0.12" >In 3 N HCl for 7 days</text>
<path d="M672.48,221.50 L668.05,242.67 L665.10,252.63 L660.76,264.22 L656.43,269.66 L652.09,272.06 L647.75,273.06 L643.42,273.95 L639.08,274.84 L634.75,275.57 L630.41,276.06 L626.08,276.54 L621.74,277.03 L617.40,277.50 L613.07,277.89 L608.73,278.28 L604.40,278.67 L600.06,279.06 L595.73,279.44 L591.39,279.83 L587.05,280.22 L582.72,280.61 L578.38,281.18 L574.05,282.06 L569.71,282.94 L565.38,283.82 L561.04,284.70 L556.70,285.58 L552.37,286.46 L548.03,287.33 L543.70,288.26 L539.36,289.82 L535.02,295.92 L530.69,309.41 L526.35,313.56 L522.02,316.12 L517.68,318.56 L513.35,320.99 L509.01,323.43 L504.67,326.21 L500.34,329.20 L496.00,332.82 L491.67,337.87" fill="none" stroke="#1c1c8c" stroke-width="0.8" stroke-linejoin="round" /><path d="M489.05,363.58 L489.27,354.70 L489.64,349.77 L490.19,344.88 L490.93,340.05 L491.85,339.50 L493.51,338.50 L497.85,335.91 L502.18,333.31 L506.52,330.48 L510.86,327.63 L515.19,324.40 L519.53,321.07 L523.86,317.74 L528.20,314.56 L532.53,305.31 L536.87,293.72 L541.21,291.31 L545.54,290.16 L549.88,289.62 L554.21,289.08 L558.55,288.55 L562.88,288.01 L567.22,287.47 L571.56,286.93 L575.89,286.39 L580.23,285.86 L584.56,285.35 L588.90,284.84 L593.23,284.32 L597.57,283.81 L601.91,283.30 L606.24,282.79 L610.58,282.28 L614.91,281.77 L619.25,281.25 L623.58,280.74 L627.92,280.23 L632.26,279.72 L636.59,279.20 L640.93,278.31 L645.26,277.42 L649.60,276.52 L653.94,275.63 L658.27,274.26 L662.61,270.74 L668.60,256.96 L672.48,221.50" fill="none" stroke="#1c1c8c" stroke-width="0.8" stroke-linejoin="round" /><circle cx="672.48" cy="221.50" r="1.6" fill="#fff" stroke="#1c1c8c" stroke-width="1.25"/><circle cx="668.05" cy="242.67" r="1.6" fill="#fff" stroke="#1c1c8c" stroke-width="1.25"/><circle cx="665.10" cy="252.63" r="1.6" fill="#fff" stroke="#1c1c8c" stroke-width="1.25"/><circle cx="660.76" cy="264.22" r="1.6" fill="#fff" stroke="#1c1c8c" stroke-width="1.25"/><circle cx="656.43" cy="269.66" r="1.6" fill="#fff" stroke="#1c1c8c" stroke-width="1.25"/><circle cx="652.09" cy="272.06" r="1.6" fill="#fff" stroke="#1c1c8c" stroke-width="1.25"/><circle cx="647.75" cy="273.06" r="1.6" fill="#fff" stroke="#1c1c8c" stroke-width="1.25"/><circle cx="643.42" cy="273.95" r="1.6" fill="#fff" stroke="#1c1c8c" stroke-width="1.25"/><circle cx="639.08" cy="274.84" r="1.6" fill="#fff" stroke="#1c1c8c" stroke-width="1.25"/><circle cx="634.75" cy="275.57" r="1.6" fill="#fff" stroke="#1c1c8c" stroke-width="1.25"/><circle cx="630.41" cy="276.06" r="1.6" fill="#fff" stroke="#1c1c8c" stroke-width="1.25"/><circle cx="626.08" cy="276.54" r="1.6" fill="#fff" stroke="#1c1c8c" stroke-width="1.25"/><circle cx="621.74" cy="277.03" r="1.6" fill="#fff" stroke="#1c1c8c" stroke-width="1.25"/><circle cx="617.40" cy="277.50" r="1.6" fill="#fff" stroke="#1c1c8c" stroke-width="1.25"/><circle cx="613.07" cy="277.89" r="1.6" fill="#fff" stroke="#1c1c8c" stroke-width="1.25"/><circle cx="608.73" cy="278.28" r="1.6" fill="#fff" stroke="#1c1c8c" stroke-width="1.25"/><circle cx="604.40" cy="278.67" r="1.6" fill="#fff" stroke="#1c1c8c" stroke-width="1.25"/><circle cx="600.06" cy="279.06" r="1.6" fill="#fff" stroke="#1c1c8c" stroke-width="1.25"/><circle cx="595.73" cy="279.44" r="1.6" fill="#fff" stroke="#1c1c8c" stroke-width="1.25"/><circle cx="591.39" cy="279.83" r="1.6" fill="#fff" stroke="#1c1c8c" stroke-width="1.25"/><circle cx="587.05" cy="280.22" r="1.6" fill="#fff" stroke="#1c1c8c" stroke-width="1.25"/><circle cx="582.72" cy="280.61" r="1.6" fill="#fff" stroke="#1c1c8c" stroke-width="1.25"/><circle cx="578.38" cy="281.18" r="1.6" fill="#fff" stroke="#1c1c8c" stroke-width="1.25"/><circle cx="574.05" cy="282.06" r="1.6" fill="#fff" stroke="#1c1c8c" stroke-width="1.25"/><circle cx="569.71" cy="282.94" r="1.6" fill="#fff" stroke="#1c1c8c" stroke-width="1.25"/><circle cx="565.38" cy="283.82" r="1.6" fill="#fff" stroke="#1c1c8c" stroke-width="1.25"/><circle cx="561.04" cy="284.70" r="1.6" fill="#fff" stroke="#1c1c8c" stroke-width="1.25"/><circle cx="556.70" cy="285.58" r="1.6" fill="#fff" stroke="#1c1c8c" stroke-width="1.25"/><circle cx="552.37" cy="286.46" r="1.6" fill="#fff" stroke="#1c1c8c" stroke-width="1.25"/><circle cx="548.03" cy="287.33" r="1.6" fill="#fff" stroke="#1c1c8c" stroke-width="1.25"/><circle cx="543.70" cy="288.26" r="1.6" fill="#fff" stroke="#1c1c8c" stroke-width="1.25"/><circle cx="539.36" cy="289.82" r="1.6" fill="#fff" stroke="#1c1c8c" stroke-width="1.25"/><circle cx="535.02" cy="295.92" r="1.6" fill="#fff" stroke="#1c1c8c" stroke-width="1.25"/><circle cx="530.69" cy="309.41" r="1.6" fill="#fff" stroke="#1c1c8c" stroke-width="1.25"/><circle cx="526.35" cy="313.56" r="1.6" fill="#fff" stroke="#1c1c8c" stroke-width="1.25"/><circle cx="522.02" cy="316.12" r="1.6" fill="#fff" stroke="#1c1c8c" stroke-width="1.25"/><circle cx="517.68" cy="318.56" r="1.6" fill="#fff" stroke="#1c1c8c" stroke-width="1.25"/><circle cx="513.35" cy="320.99" r="1.6" fill="#fff" stroke="#1c1c8c" stroke-width="1.25"/><circle cx="509.01" cy="323.43" r="1.6" fill="#fff" stroke="#1c1c8c" stroke-width="1.25"/><circle cx="504.67" cy="326.21" r="1.6" fill="#fff" stroke="#1c1c8c" stroke-width="1.25"/><circle cx="500.34" cy="329.20" r="1.6" fill="#fff" stroke="#1c1c8c" stroke-width="1.25"/><circle cx="496.00" cy="332.82" r="1.6" fill="#fff" stroke="#1c1c8c" stroke-width="1.25"/><circle cx="491.67" cy="337.87" r="1.6" fill="#fff" stroke="#1c1c8c" stroke-width="1.25"/><circle cx="489.05" cy="363.58" r="1.95" fill="#1c1c8c"/><circle cx="489.27" cy="354.70" r="1.95" fill="#1c1c8c"/><circle cx="489.64" cy="349.77" r="1.95" fill="#1c1c8c"/><circle cx="490.19" cy="344.88" r="1.95" fill="#1c1c8c"/><circle cx="490.93" cy="340.05" r="1.95" fill="#1c1c8c"/><circle cx="491.85" cy="339.50" r="1.95" fill="#1c1c8c"/><circle cx="493.51" cy="338.50" r="1.95" fill="#1c1c8c"/><circle cx="497.85" cy="335.91" r="1.95" fill="#1c1c8c"/><circle cx="502.18" cy="333.31" r="1.95" fill="#1c1c8c"/><circle cx="506.52" cy="330.48" r="1.95" fill="#1c1c8c"/><circle cx="510.86" cy="327.63" r="1.95" fill="#1c1c8c"/><circle cx="515.19" cy="324.40" r="1.95" fill="#1c1c8c"/><circle cx="519.53" cy="321.07" r="1.95" fill="#1c1c8c"/><circle cx="523.86" cy="317.74" r="1.95" fill="#1c1c8c"/><circle cx="528.20" cy="314.56" r="1.95" fill="#1c1c8c"/><circle cx="532.53" cy="305.31" r="1.95" fill="#1c1c8c"/><circle cx="536.87" cy="293.72" r="1.95" fill="#1c1c8c"/><circle cx="541.21" cy="291.31" r="1.95" fill="#1c1c8c"/><circle cx="545.54" cy="290.16" r="1.95" fill="#1c1c8c"/><circle cx="549.88" cy="289.62" r="1.95" fill="#1c1c8c"/><circle cx="554.21" cy="289.08" r="1.95" fill="#1c1c8c"/><circle cx="558.55" cy="288.55" r="1.95" fill="#1c1c8c"/><circle cx="562.88" cy="288.01" r="1.95" fill="#1c1c8c"/><circle cx="567.22" cy="287.47" r="1.95" fill="#1c1c8c"/><circle cx="571.56" cy="286.93" r="1.95" fill="#1c1c8c"/><circle cx="575.89" cy="286.39" r="1.95" fill="#1c1c8c"/><circle cx="580.23" cy="285.86" r="1.95" fill="#1c1c8c"/><circle cx="584.56" cy="285.35" r="1.95" fill="#1c1c8c"/><circle cx="588.90" cy="284.84" r="1.95" fill="#1c1c8c"/><circle cx="593.23" cy="284.32" r="1.95" fill="#1c1c8c"/><circle cx="597.57" cy="283.81" r="1.95" fill="#1c1c8c"/><circle cx="601.91" cy="283.30" r="1.95" fill="#1c1c8c"/><circle cx="606.24" cy="282.79" r="1.95" fill="#1c1c8c"/><circle cx="610.58" cy="282.28" r="1.95" fill="#1c1c8c"/><circle cx="614.91" cy="281.77" r="1.95" fill="#1c1c8c"/><circle cx="619.25" cy="281.25" r="1.95" fill="#1c1c8c"/><circle cx="623.58" cy="280.74" r="1.95" fill="#1c1c8c"/><circle cx="627.92" cy="280.23" r="1.95" fill="#1c1c8c"/><circle cx="632.26" cy="279.72" r="1.95" fill="#1c1c8c"/><circle cx="636.59" cy="279.20" r="1.95" fill="#1c1c8c"/><circle cx="640.93" cy="278.31" r="1.95" fill="#1c1c8c"/><circle cx="645.26" cy="277.42" r="1.95" fill="#1c1c8c"/><circle cx="649.60" cy="276.52" r="1.95" fill="#1c1c8c"/><circle cx="653.94" cy="275.63" r="1.95" fill="#1c1c8c"/><circle cx="658.27" cy="274.26" r="1.95" fill="#1c1c8c"/><circle cx="662.61" cy="270.74" r="1.95" fill="#1c1c8c"/><circle cx="668.60" cy="256.96" r="1.95" fill="#1c1c8c"/><circle cx="672.48" cy="221.50" r="1.95" fill="#1c1c8c"/><path d="M672.48,221.50 L668.05,233.43 L665.10,241.85 L660.76,250.16 L656.43,254.17 L652.09,256.54 L647.75,258.31 L643.42,259.88 L639.08,261.09 L634.75,261.91 L630.41,262.28 L626.08,262.66 L621.74,263.03 L617.40,263.41 L613.07,263.78 L608.73,264.16 L604.40,264.53 L600.06,264.91 L595.73,265.28 L591.39,265.66 L587.05,266.03 L582.72,266.41 L578.38,267.12 L574.05,268.38 L569.71,269.63 L565.38,270.89 L561.04,272.14 L556.70,273.40 L552.37,274.65 L548.03,275.91 L543.70,277.11 L539.36,278.41 L535.02,286.62 L530.69,302.34 L526.35,307.55 L522.02,311.78 L517.68,315.45 L513.35,318.74 L509.01,321.30 L504.67,324.29 L500.34,327.84 L496.00,331.76 L491.67,336.48" fill="none" stroke="#e02020" stroke-width="0.8" stroke-linejoin="round" /><path d="M489.05,363.58 L489.27,354.70 L489.64,349.52 L490.19,343.30 L490.93,339.16 L491.85,338.26 L493.51,336.65 L497.85,333.69 L502.18,331.06 L506.52,328.30 L510.86,325.51 L515.19,322.39 L519.53,319.14 L523.86,315.89 L528.20,311.90 L532.53,303.18 L536.87,286.62 L541.21,280.10 L545.54,278.64 L549.88,277.67 L554.21,276.70 L558.55,275.73 L562.88,274.76 L567.22,273.80 L571.56,272.83 L575.89,271.86 L580.23,270.91 L584.56,270.42 L588.90,269.93 L593.23,269.44 L597.57,268.95 L601.91,268.46 L606.24,267.97 L610.58,267.48 L614.91,266.99 L619.25,266.50 L623.58,265.97 L627.92,265.45 L632.26,264.93 L636.59,264.39 L640.93,263.12 L645.26,261.86 L649.60,260.59 L653.94,259.32 L658.27,257.15 L662.61,253.20 L668.05,240.59" fill="none" stroke="#e02020" stroke-width="0.8" stroke-linejoin="round" /><circle cx="672.48" cy="221.50" r="1.6" fill="#fff" stroke="#e02020" stroke-width="1.25"/><circle cx="668.05" cy="233.43" r="1.6" fill="#fff" stroke="#e02020" stroke-width="1.25"/><circle cx="665.10" cy="241.85" r="1.6" fill="#fff" stroke="#e02020" stroke-width="1.25"/><circle cx="660.76" cy="250.16" r="1.6" fill="#fff" stroke="#e02020" stroke-width="1.25"/><circle cx="656.43" cy="254.17" r="1.6" fill="#fff" stroke="#e02020" stroke-width="1.25"/><circle cx="652.09" cy="256.54" r="1.6" fill="#fff" stroke="#e02020" stroke-width="1.25"/><circle cx="647.75" cy="258.31" r="1.6" fill="#fff" stroke="#e02020" stroke-width="1.25"/><circle cx="643.42" cy="259.88" r="1.6" fill="#fff" stroke="#e02020" stroke-width="1.25"/><circle cx="639.08" cy="261.09" r="1.6" fill="#fff" stroke="#e02020" stroke-width="1.25"/><circle cx="634.75" cy="261.91" r="1.6" fill="#fff" stroke="#e02020" stroke-width="1.25"/><circle cx="630.41" cy="262.28" r="1.6" fill="#fff" stroke="#e02020" stroke-width="1.25"/><circle cx="626.08" cy="262.66" r="1.6" fill="#fff" stroke="#e02020" stroke-width="1.25"/><circle cx="621.74" cy="263.03" r="1.6" fill="#fff" stroke="#e02020" stroke-width="1.25"/><circle cx="617.40" cy="263.41" r="1.6" fill="#fff" stroke="#e02020" stroke-width="1.25"/><circle cx="613.07" cy="263.78" r="1.6" fill="#fff" stroke="#e02020" stroke-width="1.25"/><circle cx="608.73" cy="264.16" r="1.6" fill="#fff" stroke="#e02020" stroke-width="1.25"/><circle cx="604.40" cy="264.53" r="1.6" fill="#fff" stroke="#e02020" stroke-width="1.25"/><circle cx="600.06" cy="264.91" r="1.6" fill="#fff" stroke="#e02020" stroke-width="1.25"/><circle cx="595.73" cy="265.28" r="1.6" fill="#fff" stroke="#e02020" stroke-width="1.25"/><circle cx="591.39" cy="265.66" r="1.6" fill="#fff" stroke="#e02020" stroke-width="1.25"/><circle cx="587.05" cy="266.03" r="1.6" fill="#fff" stroke="#e02020" stroke-width="1.25"/><circle cx="582.72" cy="266.41" r="1.6" fill="#fff" stroke="#e02020" stroke-width="1.25"/><circle cx="578.38" cy="267.12" r="1.6" fill="#fff" stroke="#e02020" stroke-width="1.25"/><circle cx="574.05" cy="268.38" r="1.6" fill="#fff" stroke="#e02020" stroke-width="1.25"/><circle cx="569.71" cy="269.63" r="1.6" fill="#fff" stroke="#e02020" stroke-width="1.25"/><circle cx="565.38" cy="270.89" r="1.6" fill="#fff" stroke="#e02020" stroke-width="1.25"/><circle cx="561.04" cy="272.14" r="1.6" fill="#fff" stroke="#e02020" stroke-width="1.25"/><circle cx="556.70" cy="273.40" r="1.6" fill="#fff" stroke="#e02020" stroke-width="1.25"/><circle cx="552.37" cy="274.65" r="1.6" fill="#fff" stroke="#e02020" stroke-width="1.25"/><circle cx="548.03" cy="275.91" r="1.6" fill="#fff" stroke="#e02020" stroke-width="1.25"/><circle cx="543.70" cy="277.11" r="1.6" fill="#fff" stroke="#e02020" stroke-width="1.25"/><circle cx="539.36" cy="278.41" r="1.6" fill="#fff" stroke="#e02020" stroke-width="1.25"/><circle cx="535.02" cy="286.62" r="1.6" fill="#fff" stroke="#e02020" stroke-width="1.25"/><circle cx="530.69" cy="302.34" r="1.6" fill="#fff" stroke="#e02020" stroke-width="1.25"/><circle cx="526.35" cy="307.55" r="1.6" fill="#fff" stroke="#e02020" stroke-width="1.25"/><circle cx="522.02" cy="311.78" r="1.6" fill="#fff" stroke="#e02020" stroke-width="1.25"/><circle cx="517.68" cy="315.45" r="1.6" fill="#fff" stroke="#e02020" stroke-width="1.25"/><circle cx="513.35" cy="318.74" r="1.6" fill="#fff" stroke="#e02020" stroke-width="1.25"/><circle cx="509.01" cy="321.30" r="1.6" fill="#fff" stroke="#e02020" stroke-width="1.25"/><circle cx="504.67" cy="324.29" r="1.6" fill="#fff" stroke="#e02020" stroke-width="1.25"/><circle cx="500.34" cy="327.84" r="1.6" fill="#fff" stroke="#e02020" stroke-width="1.25"/><circle cx="496.00" cy="331.76" r="1.6" fill="#fff" stroke="#e02020" stroke-width="1.25"/><circle cx="491.67" cy="336.48" r="1.6" fill="#fff" stroke="#e02020" stroke-width="1.25"/><circle cx="489.05" cy="363.58" r="1.95" fill="#e02020"/><circle cx="489.27" cy="354.70" r="1.95" fill="#e02020"/><circle cx="489.64" cy="349.52" r="1.95" fill="#e02020"/><circle cx="490.19" cy="343.30" r="1.95" fill="#e02020"/><circle cx="490.93" cy="339.16" r="1.95" fill="#e02020"/><circle cx="491.85" cy="338.26" r="1.95" fill="#e02020"/><circle cx="493.51" cy="336.65" r="1.95" fill="#e02020"/><circle cx="497.85" cy="333.69" r="1.95" fill="#e02020"/><circle cx="502.18" cy="331.06" r="1.95" fill="#e02020"/><circle cx="506.52" cy="328.30" r="1.95" fill="#e02020"/><circle cx="510.86" cy="325.51" r="1.95" fill="#e02020"/><circle cx="515.19" cy="322.39" r="1.95" fill="#e02020"/><circle cx="519.53" cy="319.14" r="1.95" fill="#e02020"/><circle cx="523.86" cy="315.89" r="1.95" fill="#e02020"/><circle cx="528.20" cy="311.90" r="1.95" fill="#e02020"/><circle cx="532.53" cy="303.18" r="1.95" fill="#e02020"/><circle cx="536.87" cy="286.62" r="1.95" fill="#e02020"/><circle cx="541.21" cy="280.10" r="1.95" fill="#e02020"/><circle cx="545.54" cy="278.64" r="1.95" fill="#e02020"/><circle cx="549.88" cy="277.67" r="1.95" fill="#e02020"/><circle cx="554.21" cy="276.70" r="1.95" fill="#e02020"/><circle cx="558.55" cy="275.73" r="1.95" fill="#e02020"/><circle cx="562.88" cy="274.76" r="1.95" fill="#e02020"/><circle cx="567.22" cy="273.80" r="1.95" fill="#e02020"/><circle cx="571.56" cy="272.83" r="1.95" fill="#e02020"/><circle cx="575.89" cy="271.86" r="1.95" fill="#e02020"/><circle cx="580.23" cy="270.91" r="1.95" fill="#e02020"/><circle cx="584.56" cy="270.42" r="1.95" fill="#e02020"/><circle cx="588.90" cy="269.93" r="1.95" fill="#e02020"/><circle cx="593.23" cy="269.44" r="1.95" fill="#e02020"/><circle cx="597.57" cy="268.95" r="1.95" fill="#e02020"/><circle cx="601.91" cy="268.46" r="1.95" fill="#e02020"/><circle cx="606.24" cy="267.97" r="1.95" fill="#e02020"/><circle cx="610.58" cy="267.48" r="1.95" fill="#e02020"/><circle cx="614.91" cy="266.99" r="1.95" fill="#e02020"/><circle cx="619.25" cy="266.50" r="1.95" fill="#e02020"/><circle cx="623.58" cy="265.97" r="1.95" fill="#e02020"/><circle cx="627.92" cy="265.45" r="1.95" fill="#e02020"/><circle cx="632.26" cy="264.93" r="1.95" fill="#e02020"/><circle cx="636.59" cy="264.39" r="1.95" fill="#e02020"/><circle cx="640.93" cy="263.12" r="1.95" fill="#e02020"/><circle cx="645.26" cy="261.86" r="1.95" fill="#e02020"/><circle cx="649.60" cy="260.59" r="1.95" fill="#e02020"/><circle cx="653.94" cy="259.32" r="1.95" fill="#e02020"/><circle cx="658.27" cy="257.15" r="1.95" fill="#e02020"/><circle cx="662.61" cy="253.20" r="1.95" fill="#e02020"/><circle cx="668.05" cy="240.59" r="1.95" fill="#e02020"/>
<circle cx="672.48" cy="221.50" r="2.0" fill="#1c1c8c"/>
<rect x="488.9" y="221.5" width="184.5" height="148.0" fill="none" stroke="#333" stroke-width="1.1"/>
<line x1="488.90" y1="369.5" x2="488.90" y2="372.7" stroke="#333" stroke-width="1"/>
<text x="0" y="0" transform="translate(488.90,384.3) scale(1,1.1)" font-size="9.3" text-anchor="middle" fill="#222" stroke="#222" stroke-width="0.12" >0.0</text>
<line x1="507.35" y1="369.5" x2="507.35" y2="371.3" stroke="#333" stroke-width="1"/>
<line x1="525.80" y1="369.5" x2="525.80" y2="372.7" stroke="#333" stroke-width="1"/>
<text x="0" y="0" transform="translate(525.80,384.3) scale(1,1.1)" font-size="9.3" text-anchor="middle" fill="#222" stroke="#222" stroke-width="0.12" >0.2</text>
<line x1="544.25" y1="369.5" x2="544.25" y2="371.3" stroke="#333" stroke-width="1"/>
<line x1="562.70" y1="369.5" x2="562.70" y2="372.7" stroke="#333" stroke-width="1"/>
<text x="0" y="0" transform="translate(562.70,384.3) scale(1,1.1)" font-size="9.3" text-anchor="middle" fill="#222" stroke="#222" stroke-width="0.12" >0.4</text>
<line x1="581.15" y1="369.5" x2="581.15" y2="371.3" stroke="#333" stroke-width="1"/>
<line x1="599.60" y1="369.5" x2="599.60" y2="372.7" stroke="#333" stroke-width="1"/>
<text x="0" y="0" transform="translate(599.60,384.3) scale(1,1.1)" font-size="9.3" text-anchor="middle" fill="#222" stroke="#222" stroke-width="0.12" >0.6</text>
<line x1="618.05" y1="369.5" x2="618.05" y2="371.3" stroke="#333" stroke-width="1"/>
<line x1="636.50" y1="369.5" x2="636.50" y2="372.7" stroke="#333" stroke-width="1"/>
<text x="0" y="0" transform="translate(636.50,384.3) scale(1,1.1)" font-size="9.3" text-anchor="middle" fill="#222" stroke="#222" stroke-width="0.12" >0.8</text>
<line x1="654.95" y1="369.5" x2="654.95" y2="371.3" stroke="#333" stroke-width="1"/>
<line x1="673.40" y1="369.5" x2="673.40" y2="372.7" stroke="#333" stroke-width="1"/>
<text x="0" y="0" transform="translate(673.40,384.3) scale(1,1.1)" font-size="9.3" text-anchor="middle" fill="#222" stroke="#222" stroke-width="0.12" >1.0</text>
<line x1="488.9" y1="369.50" x2="485.9" y2="369.50" stroke="#333" stroke-width="1"/>
<text x="0" y="0" transform="translate(482,373.90) scale(1,1.1)" font-size="9.2" text-anchor="end" fill="#222" stroke="#222" stroke-width="0.12" >0</text>
<line x1="488.9" y1="354.70" x2="487.09999999999997" y2="354.70" stroke="#333" stroke-width="1"/>
<line x1="488.9" y1="339.90" x2="485.9" y2="339.90" stroke="#333" stroke-width="1"/>
<text x="0" y="0" transform="translate(482,344.30) scale(1,1.1)" font-size="9.2" text-anchor="end" fill="#222" stroke="#222" stroke-width="0.12" >200</text>
<line x1="488.9" y1="325.10" x2="487.09999999999997" y2="325.10" stroke="#333" stroke-width="1"/>
<line x1="488.9" y1="310.30" x2="485.9" y2="310.30" stroke="#333" stroke-width="1"/>
<text x="0" y="0" transform="translate(482,314.70) scale(1,1.1)" font-size="9.2" text-anchor="end" fill="#222" stroke="#222" stroke-width="0.12" >400</text>
<line x1="488.9" y1="295.50" x2="487.09999999999997" y2="295.50" stroke="#333" stroke-width="1"/>
<line x1="488.9" y1="280.70" x2="485.9" y2="280.70" stroke="#333" stroke-width="1"/>
<text x="0" y="0" transform="translate(482,285.10) scale(1,1.1)" font-size="9.2" text-anchor="end" fill="#222" stroke="#222" stroke-width="0.12" >600</text>
<line x1="488.9" y1="265.90" x2="487.09999999999997" y2="265.90" stroke="#333" stroke-width="1"/>
<line x1="488.9" y1="251.10" x2="485.9" y2="251.10" stroke="#333" stroke-width="1"/>
<text x="0" y="0" transform="translate(482,255.50) scale(1,1.1)" font-size="9.2" text-anchor="end" fill="#222" stroke="#222" stroke-width="0.12" >800</text>
<line x1="488.9" y1="236.30" x2="487.09999999999997" y2="236.30" stroke="#333" stroke-width="1"/>
<line x1="488.9" y1="221.50" x2="485.9" y2="221.50" stroke="#333" stroke-width="1"/>
<text x="0" y="0" transform="translate(482,225.90) scale(1,1.1)" font-size="9.2" text-anchor="end" fill="#222" stroke="#222" stroke-width="0.12" >1,000</text>
<text x="0" y="0" transform="translate(580,397.2) scale(1,1.1)" font-size="9.6" text-anchor="middle" fill="#222" stroke="#222" stroke-width="0.12" >Pressure (<tspan font-style="italic">P</tspan>/<tspan font-style="italic">P</tspan><tspan font-size="6.5" dy="2">0</tspan><tspan dy="-2">)</tspan></text>
<text x="0" y="0" font-size="9.9" text-anchor="middle" fill="#222" stroke="#222" stroke-width="0.12" transform="translate(455.5,296.5) rotate(-90) scale(1,1.1)">N<tspan font-size="6.9" dy="2">2</tspan><tspan dy="-2"> uptake (cc g</tspan><tspan font-size="6.9" dy="-3.7">−1</tspan><tspan dy="3.7">)</tspan></text>
<rect x="593.5" y="322.5" width="53.5" height="28" fill="#fff" stroke="#444" stroke-width="1"/>
<circle cx="603.3" cy="331.3" r="2" fill="#1c1c8c"/>
<text x="0" y="0" transform="translate(609.4,334) scale(1,1.1)" font-size="8" text-anchor="start" fill="#222" stroke="#222" stroke-width="0.12" >72 h</text>
<circle cx="603.3" cy="344.4" r="2" fill="#e02020"/>
<text x="0" y="0" transform="translate(609.4,346.5) scale(1,1.1)" font-size="8" text-anchor="start" fill="#222" stroke="#222" stroke-width="0.12" >12 h</text>
</svg>
</body></html>
